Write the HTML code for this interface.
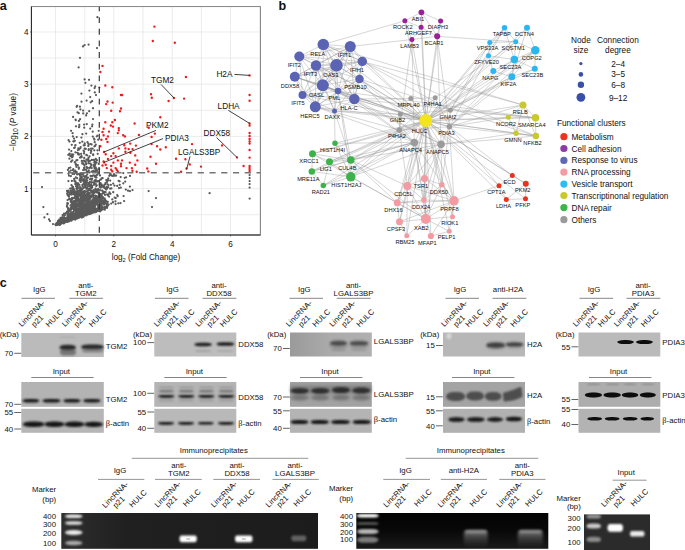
<!DOCTYPE html>
<html><head><meta charset="utf-8"><title>Figure</title>
<style>html,body{margin:0;padding:0;background:#fff}svg{display:block}text{font-family:"Liberation Sans",sans-serif;fill:#111}</style>
</head><body>
<svg width="685" height="550" viewBox="0 0 685 550">
<rect width="685" height="550" fill="#fff"/>
<g id="panel-a">
<path d="M55.5 6.6V235.0M84.7 6.6V235.0M113.8 6.6V235.0M143.0 6.6V235.0M172.2 6.6V235.0M201.4 6.6V235.0M230.5 6.6V235.0M259.7 6.6V235.0M31.4 214.7H260.4M31.4 188.6H260.4M31.4 162.5H260.4M31.4 136.4H260.4M31.4 110.3H260.4M31.4 84.2H260.4M31.4 58.1H260.4M31.4 32.0H260.4" stroke="#e4e4e4" stroke-width="0.7" fill="none"/>
<path d="M87.9 213.0h0M93.2 154.3h0M93.3 204.5h0M82.2 215.1h0M98.1 207.2h0M93.8 203.9h0M96.6 204.2h0M81.1 195.7h0M90.5 213.8h0M80.9 174.2h0M86.7 215.2h0M88.9 196.8h0M96.7 169.7h0M56.8 224.7h0M93.4 211.2h0M78.2 191.2h0M86.2 133.5h0M66.7 219.1h0M90.5 178.6h0M107.0 182.0h0M74.3 191.3h0M76.0 186.3h0M78.3 199.0h0M92.7 131.7h0M81.5 206.8h0M62.5 221.7h0M92.8 209.7h0M77.3 209.6h0M91.9 205.6h0M79.5 209.1h0M77.1 174.4h0M58.6 222.7h0M80.7 211.0h0M67.6 220.8h0M93.5 205.5h0M84.1 124.5h0M120.5 203.0h0M83.7 205.8h0M62.5 222.2h0M68.4 220.1h0M71.4 212.9h0M94.0 138.6h0M71.9 220.1h0M61.9 221.9h0M80.6 199.7h0M82.0 209.7h0M72.1 215.6h0M76.8 204.4h0M84.7 203.8h0M102.9 197.0h0M101.5 210.1h0M96.1 190.1h0M81.5 196.6h0M85.7 181.3h0M76.3 184.4h0M77.0 217.3h0M66.1 218.3h0M67.7 221.8h0M100.2 195.6h0M93.0 204.3h0M94.1 184.7h0M67.6 211.3h0M62.6 221.8h0M79.1 217.1h0M70.7 219.6h0M73.4 191.8h0M92.2 178.6h0M94.6 210.7h0M72.7 156.8h0M83.1 196.4h0M92.6 148.5h0M91.2 212.1h0M77.0 186.4h0M101.8 208.7h0M87.8 193.8h0M55.4 224.5h0M91.1 148.7h0M99.3 209.6h0M78.3 148.3h0M80.1 189.6h0M62.5 219.1h0M110.4 173.7h0M77.0 208.1h0M118.6 180.8h0M84.6 213.4h0M101.8 198.7h0M88.4 161.4h0M95.6 189.1h0M65.2 219.9h0M61.8 219.9h0M94.6 88.1h0M129.9 191.2h0M98.9 201.5h0M88.5 212.6h0M86.4 211.4h0M78.1 216.4h0M86.6 201.6h0M102.6 193.4h0M94.3 150.3h0M88.1 198.8h0M86.6 208.8h0M63.4 220.2h0M111.2 203.5h0M76.5 218.2h0M92.1 126.3h0M95.8 211.6h0M88.9 214.1h0M85.7 201.6h0M84.1 205.8h0M96.7 198.3h0M80.8 215.1h0M58.0 220.9h0M82.9 179.8h0M85.9 180.1h0M83.4 188.1h0M80.7 200.1h0M72.7 198.1h0M81.3 178.5h0M97.2 196.9h0M85.8 201.3h0M78.2 211.2h0M85.3 214.6h0M85.1 208.8h0M78.1 204.5h0M73.2 218.4h0M77.9 188.2h0M89.6 208.5h0M66.1 219.8h0M66.3 221.2h0M77.8 187.4h0M78.5 208.4h0M71.4 198.6h0M75.9 212.3h0M98.2 189.0h0M104.2 207.5h0M70.7 201.4h0M65.2 219.6h0M69.0 219.9h0M88.6 157.7h0M88.8 189.3h0M79.3 215.7h0M92.2 210.5h0M95.9 169.0h0M69.0 172.1h0M70.5 216.2h0M76.7 199.6h0M83.9 214.7h0M76.6 215.4h0M91.4 211.5h0M83.7 208.6h0M88.6 202.0h0M74.4 197.4h0M88.2 198.8h0M82.4 203.4h0M71.1 130.8h0M55.9 224.7h0M105.8 189.3h0M72.9 186.9h0M92.2 200.5h0M69.3 220.0h0M73.9 201.0h0M64.9 215.1h0M73.2 211.9h0M91.1 204.4h0M104.2 185.8h0M90.2 205.9h0M98.3 199.0h0M100.8 187.6h0M97.2 170.7h0M91.7 171.7h0M90.6 175.9h0M104.3 202.5h0M77.9 150.0h0M84.7 143.3h0M91.7 204.1h0M59.6 224.7h0M97.7 205.0h0M97.3 211.0h0M74.8 217.4h0M80.2 199.1h0M65.9 221.2h0M59.6 223.9h0M76.3 214.6h0M126.1 177.3h0M80.1 204.6h0M83.3 206.4h0M97.3 208.9h0M101.7 201.3h0M76.9 214.2h0M94.3 166.8h0M84.7 148.6h0M105.8 188.0h0M83.3 214.1h0M75.6 217.5h0M79.7 201.8h0M87.3 202.8h0M82.7 207.9h0M97.5 174.5h0M59.5 223.2h0M69.5 218.3h0M81.9 189.6h0M84.8 145.0h0M73.1 202.5h0M94.4 204.5h0M104.8 209.7h0M83.9 164.4h0M76.8 208.5h0M95.8 203.2h0M78.9 215.4h0M78.8 113.2h0M79.6 214.3h0M88.7 203.9h0M99.4 207.2h0M81.5 215.5h0M75.8 208.3h0M80.9 216.6h0M78.4 215.8h0M84.6 183.2h0M60.6 223.6h0M91.8 182.4h0M72.3 213.9h0M75.3 198.4h0M79.0 216.5h0M66.8 219.8h0M97.5 189.7h0M75.5 203.3h0M70.9 219.0h0M75.5 203.2h0M82.8 197.9h0M80.8 181.9h0M75.9 218.1h0M59.8 221.6h0M92.9 210.8h0M84.2 184.0h0M96.7 190.6h0M60.9 223.7h0M64.2 219.9h0M70.3 155.9h0M89.7 211.9h0M89.4 212.1h0M66.9 221.4h0M80.7 147.1h0M81.9 216.5h0M93.4 211.8h0M80.1 206.7h0M79.3 203.8h0M84.7 210.2h0M88.2 204.7h0M98.7 196.3h0M82.9 214.1h0M68.0 218.0h0M80.0 211.4h0M67.0 219.6h0M79.1 206.2h0M89.6 213.8h0M89.3 213.8h0M87.7 212.1h0M97.4 150.3h0M70.9 202.1h0M80.0 175.6h0M71.4 201.0h0M74.2 174.0h0M93.2 201.9h0M92.9 196.1h0M73.5 204.4h0M81.5 209.3h0M94.4 175.7h0M94.7 204.9h0M78.8 201.5h0M99.4 200.8h0M83.9 216.1h0M85.1 214.8h0M75.7 203.8h0M75.7 196.3h0M82.4 134.2h0M85.5 209.6h0M65.5 220.6h0M74.3 208.8h0M81.8 213.5h0M90.2 213.1h0M78.2 208.5h0M81.5 176.3h0M93.8 210.9h0M66.6 220.4h0M95.0 210.1h0M94.9 165.2h0M57.2 224.7h0M76.8 217.4h0M96.2 186.0h0M76.0 213.0h0M80.5 195.5h0M87.9 212.5h0M73.5 217.2h0M87.2 211.5h0M70.0 192.3h0M98.3 192.9h0M78.2 202.5h0M85.4 206.7h0M98.3 201.1h0M93.3 206.8h0M108.2 187.2h0M92.8 211.7h0M100.0 202.7h0M69.2 216.1h0M64.8 220.5h0M89.3 213.3h0M74.1 209.5h0M84.7 183.4h0M94.7 198.8h0M98.5 208.9h0M85.4 196.9h0M69.5 221.0h0M73.5 219.2h0M103.5 185.8h0M92.8 210.3h0M66.9 221.9h0M89.9 204.6h0M99.3 204.4h0M86.7 187.9h0M86.2 169.5h0M98.7 130.8h0M69.6 217.7h0M95.8 162.9h0M101.1 208.2h0M66.3 220.1h0M107.3 203.9h0M79.7 214.1h0M93.6 175.3h0M93.2 208.1h0M71.6 218.6h0M87.2 204.8h0M87.3 213.5h0M67.4 215.0h0M99.4 210.1h0M87.2 209.7h0M110.2 180.6h0M83.7 145.3h0M74.9 192.0h0M89.9 181.8h0M61.3 222.4h0M87.2 196.4h0M80.1 213.0h0M63.6 221.8h0M89.3 172.6h0M90.9 150.6h0M95.2 191.4h0M76.8 214.9h0M83.2 205.6h0M81.7 190.7h0M68.5 216.0h0M100.0 198.0h0M90.1 204.9h0M93.8 208.2h0M85.3 213.7h0M60.3 222.1h0M71.0 208.8h0M93.7 164.9h0M74.9 205.0h0M91.2 211.7h0M72.0 188.8h0M80.4 212.3h0M74.4 179.1h0M103.7 187.0h0M97.5 208.7h0M80.2 196.1h0M83.4 203.7h0M92.8 136.5h0M96.5 211.8h0M114.5 185.5h0M81.2 213.4h0M80.5 176.5h0M59.5 222.1h0M60.7 220.8h0M81.1 153.8h0M80.8 202.0h0M89.3 201.2h0M79.9 213.9h0M86.9 113.3h0M87.7 205.4h0M92.3 185.8h0M86.6 209.9h0M101.6 194.9h0M88.7 201.1h0M80.8 193.3h0M112.9 202.0h0M101.0 206.2h0M84.7 187.0h0M77.5 208.5h0M77.4 212.5h0M72.4 207.4h0M81.6 156.2h0M61.9 223.0h0M75.1 216.0h0M109.5 192.3h0M91.6 144.4h0M57.7 224.8h0M82.3 141.7h0M90.3 213.3h0M88.2 186.2h0M88.4 213.8h0M59.3 222.6h0M74.3 217.5h0M86.3 200.7h0M73.9 217.9h0M80.2 208.8h0M80.6 212.6h0M82.7 207.2h0M69.6 192.9h0M60.4 221.1h0M84.2 213.5h0M80.4 109.3h0M93.7 212.1h0M99.4 210.9h0M78.0 200.5h0M85.7 196.5h0M111.2 175.2h0M90.2 198.8h0M75.3 170.7h0M84.2 211.5h0M80.0 191.7h0M85.8 148.9h0M94.4 146.3h0M89.5 199.0h0M71.4 204.6h0M89.8 212.6h0M71.4 201.9h0M67.1 205.0h0M56.0 225.2h0M89.9 193.3h0M91.1 212.9h0M91.7 207.1h0M89.9 160.9h0M70.2 218.6h0M78.8 215.5h0M86.1 209.4h0M92.2 213.1h0M69.0 149.5h0M59.4 223.3h0M92.6 207.1h0M66.0 221.2h0M93.6 159.9h0M62.5 221.0h0M96.2 208.9h0M88.3 193.0h0M64.0 222.8h0M59.7 223.5h0M87.2 203.1h0M68.4 196.1h0M84.5 191.6h0M79.9 204.4h0M82.8 194.3h0M90.6 205.1h0M66.7 219.9h0M88.3 210.1h0M82.2 200.5h0M79.5 215.5h0M90.4 213.1h0M63.1 222.5h0M91.2 184.9h0M95.2 200.1h0M61.0 220.4h0M79.1 149.4h0M84.3 167.6h0M67.4 217.6h0M81.6 192.1h0M93.2 155.0h0M59.3 221.5h0M65.9 221.3h0M95.8 211.0h0M94.4 210.7h0M98.0 202.2h0M67.1 193.4h0M88.0 205.6h0M79.7 213.9h0M71.6 208.4h0M79.4 200.8h0M75.7 213.9h0M75.5 215.1h0M92.9 203.4h0M89.0 194.9h0M73.7 141.5h0M100.5 183.1h0M71.3 219.0h0M82.8 206.1h0M109.2 193.5h0M78.2 197.2h0M77.5 112.3h0M80.3 178.2h0M95.3 161.9h0M95.6 212.2h0M89.3 210.3h0M75.5 210.6h0M64.8 221.5h0M100.3 179.5h0M86.6 194.4h0M89.3 198.2h0M80.6 201.3h0M76.1 165.2h0M88.3 145.9h0M58.2 223.1h0M60.3 221.9h0M85.2 213.2h0M78.5 216.0h0M95.8 196.6h0M72.6 219.4h0M91.2 203.9h0M79.3 202.1h0M87.5 212.2h0M70.7 194.3h0M84.0 205.4h0M90.5 209.0h0M99.7 208.5h0M76.3 213.1h0M89.9 197.7h0M80.2 204.2h0M88.9 210.3h0M96.2 211.6h0M88.3 198.1h0M65.1 218.6h0M77.2 217.3h0M76.3 160.4h0M105.0 194.9h0M74.3 198.2h0M92.1 175.9h0M75.9 215.2h0M73.3 141.3h0M79.2 207.7h0M92.7 209.0h0M67.3 217.1h0M65.8 219.3h0M83.7 202.4h0M89.6 207.8h0M99.7 208.6h0M92.3 203.3h0M59.9 222.7h0M66.6 219.8h0M86.4 199.3h0M95.3 203.6h0M71.1 218.3h0M98.3 208.7h0M96.9 180.8h0M74.5 217.6h0M92.6 211.9h0M88.5 208.4h0M77.9 197.8h0M72.2 198.0h0M85.0 213.0h0M96.7 209.0h0M86.6 187.9h0M76.8 214.0h0M100.6 194.2h0M123.3 183.3h0M88.4 197.1h0M86.1 115.4h0M67.5 194.6h0M64.3 221.3h0M85.1 192.4h0M91.2 151.2h0M90.8 190.9h0M98.7 200.5h0M85.4 209.9h0M74.3 217.4h0M83.8 204.2h0M104.6 184.5h0M93.0 212.2h0M88.4 204.4h0M78.9 214.7h0M79.2 191.4h0M77.6 190.5h0M77.0 199.0h0M93.2 205.7h0M83.6 201.5h0M80.7 212.5h0M110.5 193.8h0M90.5 213.0h0M78.1 184.5h0M88.5 212.5h0M82.9 214.7h0M59.3 222.7h0M87.3 202.5h0M77.8 217.2h0M92.1 206.9h0M81.7 207.8h0M71.9 157.3h0M90.9 188.4h0M77.4 196.1h0M84.0 153.4h0M77.5 209.4h0M87.3 180.6h0M92.9 211.7h0M72.6 218.9h0M91.7 205.7h0M86.6 212.9h0M86.2 196.5h0M100.6 200.7h0M100.6 199.2h0M81.8 214.3h0M87.3 191.2h0M86.2 184.8h0M85.6 211.6h0M71.2 216.1h0M85.5 196.0h0M98.2 209.5h0M94.5 176.3h0M93.4 195.6h0M64.5 215.5h0M100.2 204.8h0M69.4 141.5h0M115.5 201.3h0M75.4 216.4h0M59.5 220.9h0M66.4 220.3h0M117.2 185.9h0M84.2 157.9h0M80.6 188.7h0M79.7 180.5h0M60.3 222.1h0M96.5 209.5h0M98.9 194.9h0M67.6 200.0h0M95.4 168.3h0M91.3 165.3h0M87.5 185.0h0M89.3 209.9h0M64.0 213.7h0M82.4 214.4h0M105.5 208.1h0M100.6 197.8h0M55.5 224.5h0M71.1 205.9h0M81.4 137.5h0M95.5 204.1h0M67.2 212.0h0M94.2 205.9h0M104.9 207.1h0M88.2 193.4h0M92.6 210.0h0M81.3 173.0h0M97.7 153.8h0M94.6 211.3h0M77.7 216.0h0M86.1 195.4h0M96.9 181.7h0M90.8 202.0h0M80.3 209.7h0M88.7 144.6h0M98.8 190.3h0M70.5 194.2h0M74.7 194.9h0M74.0 219.0h0M83.6 150.7h0M61.1 221.3h0M91.2 210.3h0M95.3 164.3h0M75.4 216.3h0M89.3 184.1h0M93.9 192.2h0M75.7 164.2h0M58.9 221.3h0M89.0 212.1h0M87.1 211.7h0M87.1 187.6h0M70.1 210.2h0M83.2 194.4h0M82.3 217.1h0M76.0 201.8h0M74.4 218.6h0M88.3 212.9h0M83.6 197.0h0M95.2 210.3h0M96.6 196.4h0M92.2 187.6h0M63.5 223.4h0M56.2 224.1h0M61.1 221.7h0M89.3 200.7h0M82.9 205.8h0M60.8 221.9h0M86.5 211.7h0M85.3 206.9h0M75.7 163.5h0M63.5 221.1h0M79.9 173.7h0M70.7 200.5h0M89.7 207.2h0M71.3 212.4h0M73.6 218.2h0M70.6 208.1h0M90.1 207.7h0M60.0 224.8h0M94.7 182.2h0M83.5 215.3h0M64.1 222.0h0M79.9 216.2h0M100.0 197.2h0M79.8 179.4h0M85.0 192.5h0M59.3 222.7h0M92.4 124.6h0M77.9 191.4h0M104.1 204.5h0M89.7 212.0h0M61.1 223.8h0M83.4 210.3h0M81.4 206.5h0M59.3 224.8h0M68.0 209.1h0M74.6 219.3h0M77.9 216.0h0M82.1 192.8h0M68.5 190.7h0M86.8 210.0h0M76.4 212.9h0M87.9 201.2h0M57.0 223.8h0M74.1 147.9h0M83.6 200.7h0M98.8 201.9h0M82.4 210.4h0M76.6 204.6h0M119.0 188.1h0M67.3 218.9h0M84.7 196.0h0M67.3 203.2h0M89.2 211.2h0M86.6 166.9h0M95.4 179.8h0M56.9 224.6h0M70.2 215.7h0M72.1 199.7h0M79.1 216.8h0M92.7 200.9h0M89.1 208.8h0M65.9 213.2h0M86.6 206.4h0M74.1 178.9h0M75.7 192.5h0M101.4 200.1h0M78.8 209.1h0M75.8 198.8h0M56.4 225.1h0M89.7 208.3h0M90.9 144.0h0M82.8 202.7h0M75.3 217.8h0M123.6 196.1h0M76.1 210.2h0M86.4 175.8h0M77.1 178.2h0M98.8 163.9h0M92.6 192.9h0M112.3 175.9h0M71.4 217.8h0M87.5 142.2h0M96.0 95.0h0M85.6 201.6h0M92.2 207.0h0M95.0 202.6h0M81.2 206.7h0M75.8 120.2h0M96.6 210.0h0M84.8 169.7h0M86.1 163.3h0M75.8 216.7h0M101.1 199.1h0M78.0 199.2h0M101.2 199.7h0M104.7 202.5h0M89.0 201.5h0M65.2 222.1h0M109.3 175.8h0M98.1 199.4h0M73.1 207.9h0M96.5 162.7h0M77.3 185.4h0M84.0 181.5h0M93.2 205.5h0M82.5 211.5h0M90.3 190.5h0M108.0 179.9h0M91.5 202.3h0M86.5 213.4h0M80.7 187.9h0M87.6 167.9h0M94.4 206.6h0M69.2 217.8h0M58.2 223.0h0M93.3 205.8h0M71.4 185.0h0M86.5 214.8h0M75.8 177.3h0M90.4 197.0h0M89.6 156.3h0M74.1 202.5h0M74.0 204.1h0M76.4 218.5h0M80.0 200.9h0M75.6 209.9h0M58.6 222.3h0M67.0 211.6h0M78.8 168.8h0M87.3 198.1h0M91.9 206.6h0M85.2 200.3h0M73.8 203.3h0M82.0 210.3h0M95.4 209.9h0M78.2 193.6h0M87.6 209.3h0M82.0 215.5h0M74.8 217.7h0M61.6 221.4h0M87.1 167.5h0M82.2 191.7h0M85.8 205.3h0M86.8 124.0h0M94.4 209.5h0M86.4 214.3h0M88.9 205.4h0M90.3 213.5h0M85.0 206.3h0M70.7 218.2h0M83.2 213.9h0M84.3 206.4h0M102.6 178.2h0M69.6 209.9h0M74.4 193.4h0M91.8 179.8h0M95.5 204.9h0M115.6 204.0h0M76.5 217.9h0M78.8 209.9h0M112.3 199.4h0M76.1 206.3h0M98.7 172.6h0M98.3 207.1h0M88.7 204.4h0M72.6 133.2h0M63.7 222.0h0M86.2 207.2h0M71.0 218.4h0M104.1 200.1h0M75.7 209.6h0M83.8 176.0h0M68.0 203.3h0M59.8 222.7h0M75.6 213.1h0M93.6 193.5h0M59.1 222.1h0M63.7 222.9h0M70.8 217.9h0M95.1 206.4h0M84.4 194.6h0M98.5 210.1h0M64.7 213.8h0M97.2 189.7h0M93.3 209.1h0M85.6 207.1h0M74.0 214.6h0M108.7 204.6h0M66.5 218.0h0M94.1 201.7h0M94.8 205.5h0M71.3 214.0h0M78.9 205.7h0M74.5 218.9h0M79.0 212.5h0M97.6 191.3h0M80.1 207.9h0M81.3 207.3h0M103.9 204.6h0M62.5 218.8h0M103.9 207.3h0M85.6 212.9h0M83.1 180.3h0M85.7 161.6h0M90.8 201.4h0M74.7 218.0h0M100.7 209.2h0M75.0 208.3h0M71.4 198.7h0M70.0 199.2h0M103.9 193.0h0M82.9 174.4h0M86.0 215.4h0M84.5 165.3h0M76.5 196.5h0M81.0 214.4h0M80.5 187.8h0M91.6 208.4h0M82.3 195.8h0M84.7 213.1h0M74.2 201.6h0M87.0 214.6h0M67.0 221.6h0M58.0 222.6h0M78.7 216.3h0M92.0 208.9h0M73.4 204.8h0M96.9 196.6h0M68.0 217.2h0M92.9 212.7h0M105.2 199.5h0M75.8 201.6h0M89.4 90.6h0M90.2 128.5h0M98.6 193.4h0M101.2 197.5h0M85.2 186.1h0M73.5 208.9h0M78.0 213.8h0M68.8 195.5h0M87.2 174.3h0M93.5 210.2h0M72.7 189.4h0M75.7 172.7h0M75.5 181.3h0M91.0 208.5h0M104.6 200.5h0M79.2 214.0h0M82.3 191.8h0M81.0 197.5h0M102.1 203.0h0M90.2 212.4h0M80.4 216.1h0M87.0 212.6h0M67.6 204.1h0M65.4 219.6h0M59.7 220.7h0M93.2 210.1h0M83.8 195.8h0M92.2 194.9h0M79.0 127.2h0M89.4 195.8h0M78.3 205.0h0M78.5 193.0h0M97.6 210.9h0M72.7 170.2h0M98.3 198.4h0M93.0 211.2h0M96.9 160.2h0M89.1 194.2h0M67.4 211.6h0M102.9 201.9h0M87.1 193.4h0M81.2 200.3h0M59.6 221.4h0M95.4 180.6h0M94.3 162.4h0M79.7 190.4h0M87.3 200.3h0M58.3 223.5h0M95.6 200.8h0M61.4 223.4h0M104.2 191.9h0M93.3 198.8h0M91.4 205.6h0M71.7 218.2h0M84.1 196.7h0M81.2 208.7h0M70.9 191.2h0M75.0 218.5h0M71.0 214.7h0M69.1 218.9h0M89.4 214.0h0M95.8 144.6h0M79.5 204.1h0M95.9 210.5h0M76.4 216.9h0M80.0 215.3h0M77.6 204.0h0M89.6 205.5h0M77.5 213.8h0M62.7 217.2h0M81.7 194.7h0M72.5 173.9h0M87.3 213.3h0M91.6 213.0h0M87.9 214.2h0M94.3 211.2h0M107.6 184.3h0M79.0 212.8h0M68.9 194.9h0M86.5 177.4h0M63.8 217.2h0M117.7 196.2h0M69.2 215.9h0M95.4 209.1h0M84.5 213.5h0M105.3 184.1h0M89.2 202.2h0M76.7 183.0h0M78.3 195.2h0M79.9 211.1h0M85.3 214.8h0M72.3 160.4h0M87.2 195.9h0M77.4 217.8h0M76.4 217.8h0M80.4 148.0h0M62.2 218.3h0M80.1 210.4h0M75.4 182.0h0M94.9 209.7h0M90.5 208.2h0M71.7 194.5h0M83.2 215.5h0M118.3 203.3h0M89.3 212.1h0M88.6 163.2h0M96.3 190.6h0M96.2 211.5h0M72.3 217.6h0M93.8 182.9h0M73.2 214.2h0M84.3 206.7h0M89.3 196.9h0M66.7 221.2h0M107.7 205.8h0M74.6 218.1h0M81.7 213.2h0M88.5 210.1h0M91.9 210.5h0M75.2 200.8h0M91.0 206.3h0M100.6 207.7h0M76.3 217.3h0M103.0 197.7h0M84.2 197.0h0M68.7 214.7h0M56.8 223.6h0M97.7 197.8h0M83.6 214.9h0M93.8 190.1h0M83.6 200.8h0M80.7 204.8h0M69.4 158.7h0M103.7 201.8h0M81.0 214.5h0M78.0 214.8h0M72.1 197.8h0M98.6 206.5h0M102.4 208.3h0M82.4 189.0h0M97.0 201.4h0M76.9 198.6h0M77.8 204.0h0M80.5 203.5h0M74.4 218.7h0M81.9 199.5h0M97.2 210.1h0M74.0 210.6h0M82.7 199.2h0M87.3 159.7h0M77.3 217.5h0M73.3 154.6h0M89.9 211.8h0M91.3 197.1h0M96.2 191.9h0M88.7 160.7h0M95.8 208.8h0M81.8 204.9h0M73.4 188.4h0M79.1 209.7h0M77.3 205.7h0M88.0 206.5h0M79.2 207.9h0M87.8 209.3h0M96.3 198.9h0M79.3 215.2h0M76.8 206.9h0M82.4 212.3h0M83.0 213.0h0M64.5 220.8h0M95.7 198.0h0M79.7 215.8h0M90.5 207.2h0M84.0 168.1h0M102.0 207.2h0M62.7 220.0h0M77.2 189.6h0M94.2 181.1h0M76.5 188.7h0M85.8 200.7h0M67.9 216.6h0M93.3 202.9h0M95.4 188.6h0M100.3 211.3h0M60.5 222.9h0M95.0 204.2h0M73.2 218.7h0M86.6 202.9h0M81.4 212.6h0M89.4 211.0h0M88.4 211.8h0M94.0 197.3h0M76.3 217.9h0M93.8 209.7h0M70.4 210.4h0M63.0 219.2h0M72.5 219.1h0M91.6 202.2h0M74.4 217.1h0M88.1 214.0h0M87.3 211.4h0M93.9 199.8h0M70.4 167.5h0M96.3 192.2h0M81.2 178.1h0M76.6 198.6h0M92.1 191.1h0M65.4 218.0h0M123.3 173.0h0M73.2 209.1h0M88.7 190.0h0M71.0 219.3h0M76.8 172.1h0M107.1 207.8h0M64.6 220.4h0M80.1 188.8h0M89.5 172.4h0M95.2 205.3h0M63.0 221.3h0M86.8 171.3h0M81.6 178.7h0M94.9 206.9h0M87.7 188.5h0M93.2 192.9h0M61.1 217.9h0M98.9 194.4h0M71.5 218.7h0M86.1 199.1h0M73.1 189.0h0M87.3 199.4h0M73.3 217.0h0M70.9 188.7h0M71.9 180.9h0M76.6 186.2h0M88.7 192.7h0M88.2 183.1h0M83.4 214.6h0M85.9 204.1h0M85.4 212.7h0M77.9 217.5h0M95.5 201.0h0M76.3 166.8h0M85.3 214.3h0M75.8 202.4h0M72.5 218.9h0M66.1 220.6h0M60.5 221.4h0M80.4 206.3h0M102.0 206.0h0M86.2 200.7h0M90.5 195.6h0M63.3 219.1h0M69.4 219.5h0M82.2 196.8h0M87.4 197.0h0M94.9 172.0h0M83.1 211.9h0M82.2 163.6h0M91.8 182.1h0M81.0 202.3h0M87.6 204.6h0M73.0 208.2h0M85.4 206.2h0M81.1 216.1h0M76.8 214.5h0M60.2 222.4h0M78.2 174.1h0M89.2 194.6h0M87.7 211.1h0M91.1 212.1h0M62.5 219.6h0M91.6 212.1h0M71.0 209.8h0M60.6 220.7h0M69.5 213.9h0M78.5 198.1h0M86.6 213.7h0M71.3 217.5h0M63.1 219.9h0M74.5 180.6h0M76.1 196.0h0M84.9 200.1h0M74.8 210.0h0M75.2 215.7h0M68.1 220.3h0M66.1 220.0h0M68.4 173.5h0M68.5 221.3h0M82.4 210.8h0M80.0 215.8h0M77.6 217.1h0M76.6 194.7h0M84.9 191.1h0M77.8 216.5h0M73.6 198.0h0M62.6 220.3h0M96.8 185.4h0M89.6 207.4h0M67.3 220.1h0M107.1 194.3h0M94.5 139.6h0M86.3 164.0h0M90.2 97.0h0M84.1 214.6h0M78.2 187.1h0M76.3 165.3h0M84.2 214.3h0M74.1 171.2h0M67.7 195.2h0M82.7 213.9h0M68.5 219.4h0M82.8 200.6h0M96.4 209.3h0M75.4 152.3h0M102.7 201.7h0M97.5 204.1h0M77.6 201.1h0M82.4 202.1h0M71.2 192.6h0M100.3 207.3h0M86.9 202.3h0M79.2 216.6h0M68.9 168.1h0M86.6 210.8h0M66.9 206.5h0M67.2 221.0h0M77.4 152.8h0M64.6 220.0h0M82.9 213.1h0M102.8 200.7h0M81.0 157.4h0M83.4 173.5h0M90.5 203.5h0M72.5 204.9h0M85.1 208.8h0M89.9 210.6h0M78.1 216.1h0M86.4 159.5h0M69.2 215.1h0M100.3 201.6h0M79.6 217.6h0M87.3 212.7h0M71.8 192.4h0M88.6 143.9h0M98.3 198.1h0M84.0 198.4h0M82.8 215.2h0M84.2 191.0h0M82.9 202.7h0M61.7 220.3h0M101.1 204.5h0M81.5 191.7h0M93.3 211.3h0M91.8 209.3h0M72.0 218.9h0M73.8 189.1h0M65.0 218.7h0M81.6 216.0h0M88.6 212.7h0M70.9 200.4h0M86.9 210.2h0M76.7 137.0h0M86.2 183.3h0M69.8 215.1h0M90.5 207.7h0M70.9 176.0h0M90.5 212.5h0M79.0 213.6h0M70.5 205.5h0M100.0 175.4h0M83.8 204.8h0M76.8 212.5h0M80.6 211.2h0M88.1 204.2h0M57.1 222.5h0M86.9 172.0h0M75.3 210.9h0M83.1 195.6h0M69.2 218.4h0M83.9 212.1h0M81.1 199.0h0M65.7 220.9h0M80.5 203.3h0M91.9 208.5h0M96.0 180.5h0M89.9 211.5h0M100.8 204.7h0M80.6 211.2h0M60.5 220.8h0M95.9 209.1h0M78.2 183.4h0M99.1 168.2h0M63.0 219.9h0M74.7 215.9h0M63.6 223.2h0M94.4 202.0h0M87.8 210.7h0M91.0 207.3h0M80.3 215.1h0M82.6 186.5h0M69.5 218.5h0M73.7 192.5h0M67.8 207.7h0M81.9 177.4h0M91.2 164.3h0M88.0 177.7h0M77.1 215.9h0M71.1 219.9h0M65.4 220.0h0M66.7 219.9h0M75.8 216.7h0M61.3 219.5h0M87.2 155.3h0M75.4 219.5h0M77.4 217.3h0M78.6 167.4h0M95.4 212.2h0M62.0 220.2h0M83.5 183.7h0M90.3 163.5h0M74.2 216.2h0M77.1 191.3h0M86.3 154.9h0M124.1 201.1h0M92.0 211.1h0M76.5 215.9h0M87.5 212.3h0M67.9 214.3h0M59.3 223.7h0M96.0 210.3h0M83.8 212.3h0M106.7 206.6h0M84.1 206.8h0M86.3 214.4h0M65.1 221.0h0M97.0 202.0h0M76.1 217.7h0M95.6 202.5h0M75.3 217.0h0M98.9 181.1h0M83.0 163.5h0M88.4 213.7h0M60.4 221.9h0M83.7 195.9h0M94.7 199.8h0M68.2 212.9h0M97.3 200.4h0M96.4 175.3h0M92.9 194.4h0M57.6 222.9h0M95.2 171.0h0M100.0 190.0h0M71.8 192.8h0M60.2 222.6h0M103.2 192.7h0M84.3 193.5h0M72.3 217.3h0M76.5 215.9h0M81.7 215.0h0M96.0 168.2h0M61.1 221.5h0M93.8 166.6h0M68.2 220.5h0M72.9 136.4h0M75.9 215.6h0M94.8 161.3h0M77.8 165.1h0M75.5 206.8h0M69.0 175.7h0M88.5 207.5h0M70.6 217.2h0M76.2 198.5h0M92.3 210.8h0M56.9 223.7h0M92.9 194.5h0M71.9 201.9h0M61.4 221.7h0M73.6 217.7h0M89.9 211.5h0M91.0 212.3h0M76.1 218.2h0M69.8 216.9h0M56.9 224.0h0M74.3 210.6h0M68.6 210.8h0M76.2 203.5h0M68.8 195.4h0M86.2 203.0h0M84.3 198.7h0M96.2 195.9h0M96.9 199.3h0M102.6 203.7h0M70.8 191.1h0M85.3 176.4h0M92.0 196.8h0M66.3 218.7h0M96.0 210.2h0M85.1 161.6h0M81.2 203.1h0M77.3 205.5h0M92.1 212.6h0M99.3 87.5h0M76.9 192.9h0M85.7 213.0h0M73.3 169.2h0M57.8 224.7h0M106.3 201.2h0M81.7 215.3h0M81.2 214.8h0M68.6 219.2h0M113.9 175.8h0M84.6 184.6h0M60.8 222.2h0M79.4 208.7h0M86.7 179.1h0M102.2 190.5h0M80.4 214.0h0M89.2 208.2h0M86.3 199.0h0M84.6 209.8h0M88.3 201.8h0M89.7 204.7h0M96.6 201.9h0M80.0 210.3h0M71.4 220.7h0M67.0 190.9h0M74.9 204.7h0M73.4 218.1h0M72.0 203.4h0M82.1 207.6h0M67.0 220.1h0M80.6 208.3h0M87.3 214.1h0M86.4 204.6h0M87.1 214.3h0M81.8 198.4h0M79.3 215.8h0M73.1 214.0h0M67.8 219.8h0M66.5 219.8h0M65.9 220.6h0M56.4 223.4h0M86.6 203.9h0M76.4 215.3h0M84.6 205.9h0M84.2 212.8h0M102.1 186.1h0M99.2 205.1h0M75.0 215.1h0M90.7 203.0h0M77.2 209.5h0M73.9 202.6h0M75.2 184.0h0M81.5 180.1h0M95.4 195.5h0M83.0 192.8h0M86.4 206.3h0M75.7 194.1h0M78.5 194.8h0M88.8 211.8h0M96.6 192.4h0M58.9 221.3h0M82.6 214.5h0M74.5 206.8h0M80.4 204.1h0M107.8 195.3h0M69.1 154.2h0M81.5 208.0h0M98.9 195.4h0M75.5 191.4h0M88.6 150.1h0M67.3 217.2h0M88.5 200.9h0M71.2 155.4h0M84.1 151.5h0M82.4 192.7h0M90.9 204.2h0M69.0 218.4h0M79.2 216.3h0M83.6 211.9h0M103.3 186.7h0M59.1 221.7h0M81.4 201.0h0M89.1 188.9h0M83.2 180.9h0M94.7 210.6h0M84.7 180.1h0M72.5 214.4h0M72.6 217.6h0M74.1 213.3h0M95.5 199.5h0M91.3 182.7h0M60.8 220.3h0M74.8 191.6h0M90.6 166.6h0M66.9 220.4h0M83.2 216.9h0M89.8 188.3h0M87.8 208.0h0M91.7 210.9h0M86.8 182.5h0M79.4 205.3h0M86.6 201.3h0M85.7 208.1h0M83.5 206.9h0M84.6 209.4h0M69.6 214.5h0M80.0 187.0h0M73.6 206.7h0M104.6 203.9h0M105.8 189.2h0M63.4 223.0h0M76.4 217.0h0M68.4 181.0h0M78.7 209.9h0M77.4 188.8h0M89.3 207.3h0M81.8 160.9h0M86.5 199.5h0M56.6 224.2h0M59.2 222.6h0M69.2 221.0h0M81.9 217.5h0M102.7 209.4h0M84.0 210.3h0M79.6 206.0h0M100.7 203.0h0M63.3 218.6h0M69.0 209.4h0M71.1 212.3h0M94.7 210.7h0M88.0 208.9h0M81.2 156.3h0M101.7 184.7h0M81.2 173.8h0M104.2 187.8h0M88.8 170.4h0M101.9 201.2h0M86.4 202.7h0M82.5 210.7h0M101.1 203.3h0M107.1 188.5h0M83.0 179.6h0M97.2 199.2h0M62.5 221.6h0M89.3 203.7h0M83.3 193.9h0M71.3 217.3h0M60.6 217.9h0M86.6 202.2h0M90.0 179.3h0M88.5 211.1h0M99.9 209.7h0M94.3 139.6h0M79.4 184.9h0M129.9 186.6h0M85.9 183.9h0M74.4 181.0h0M65.1 219.6h0M85.5 198.7h0M83.0 212.5h0M88.8 199.1h0M55.8 225.0h0M89.2 111.2h0M83.8 213.2h0M68.5 219.9h0M64.4 223.0h0M59.8 221.3h0M76.3 218.2h0M76.5 197.6h0M71.3 204.7h0M77.8 187.9h0M87.1 197.0h0M83.0 210.7h0M76.6 217.2h0M75.2 145.4h0M93.0 191.2h0M62.4 222.0h0M82.8 207.9h0M98.2 210.8h0M75.3 217.5h0M78.6 193.7h0M120.8 187.5h0M94.1 202.0h0M72.7 217.4h0M92.5 210.0h0M100.1 209.9h0M69.9 220.1h0M75.5 145.0h0M95.2 145.9h0M84.4 178.3h0M89.3 182.8h0M75.2 217.7h0M86.3 187.0h0M95.9 211.9h0M85.7 198.5h0M78.5 215.4h0M93.6 210.0h0M85.4 214.3h0M101.8 207.3h0M98.1 172.7h0M81.5 202.0h0M89.8 185.9h0M70.1 188.5h0M89.5 172.4h0M73.4 217.1h0M97.6 197.4h0M94.4 192.7h0M90.8 208.9h0M87.7 208.2h0M76.1 200.6h0M75.0 181.4h0M97.8 200.1h0M73.7 215.7h0M90.1 208.1h0M74.8 202.5h0M79.0 216.3h0M77.9 190.9h0M78.2 193.7h0M59.3 219.6h0M87.2 207.0h0M91.8 159.9h0M103.1 198.0h0M68.6 217.7h0M83.2 202.2h0M100.7 179.3h0M74.6 191.8h0M92.1 201.1h0M72.7 214.7h0M97.2 203.8h0M86.8 206.9h0M76.8 213.0h0M95.5 204.2h0M89.0 213.2h0M90.7 212.5h0M74.0 208.2h0M80.5 191.2h0M55.8 224.2h0M92.2 212.2h0M61.4 217.6h0M85.7 195.2h0M74.5 208.0h0M81.4 216.3h0M75.1 217.5h0M75.7 172.6h0M66.7 219.5h0M84.0 206.1h0M78.7 199.6h0M68.4 192.3h0M96.1 203.8h0M94.6 168.5h0M90.1 213.9h0M63.0 220.6h0M94.2 212.0h0M69.0 211.4h0M77.5 206.1h0M87.2 188.2h0M96.5 177.6h0M80.2 214.5h0M59.1 223.0h0M94.2 193.2h0M81.5 212.2h0M62.5 221.4h0M88.5 210.6h0M78.0 216.3h0M82.9 214.7h0M58.8 221.4h0M81.5 195.2h0M95.2 177.1h0M90.7 186.7h0M77.5 218.3h0M93.5 205.0h0M79.3 126.6h0M92.6 211.1h0M78.7 215.5h0M72.0 218.4h0M84.2 160.9h0M78.3 216.0h0M83.9 184.6h0M77.6 197.1h0M67.3 220.2h0M72.5 218.2h0M90.9 212.0h0M80.4 194.1h0M87.9 211.6h0M75.7 183.4h0M89.4 198.9h0M91.7 205.3h0M71.3 188.3h0M67.8 221.0h0M84.3 215.1h0M91.9 190.6h0M74.5 215.1h0M85.3 206.6h0M83.4 194.2h0M92.1 208.5h0M69.0 196.8h0M83.6 181.6h0M86.0 212.2h0M74.2 218.5h0M66.9 220.3h0M95.2 203.6h0M85.6 191.3h0M79.7 194.0h0M101.5 197.7h0M89.9 203.7h0M66.4 220.2h0M74.8 140.8h0M78.1 154.3h0M78.4 208.2h0M95.5 171.6h0M79.4 195.4h0M85.8 194.8h0M79.1 154.6h0M91.8 205.9h0M132.5 190.1h0M79.3 124.9h0M83.6 202.0h0M62.9 218.6h0M83.1 198.1h0M84.2 215.5h0M81.2 215.5h0M74.1 205.1h0M78.0 215.1h0M72.2 191.2h0M82.3 201.1h0M97.5 135.7h0M88.7 195.3h0M86.9 212.4h0M67.0 218.0h0M76.8 212.0h0M73.6 194.2h0M95.8 184.0h0M72.7 156.7h0M115.8 198.1h0M80.0 157.5h0M72.2 186.0h0M65.0 221.6h0M75.1 216.3h0M83.1 170.0h0M96.6 211.4h0M92.5 199.9h0M69.6 214.3h0M82.4 204.9h0M91.5 192.5h0M78.1 218.1h0M82.5 204.5h0M71.6 213.3h0M71.8 206.8h0M62.6 215.1h0M87.8 171.8h0M81.1 205.1h0M91.7 168.0h0M99.0 208.7h0M76.0 215.7h0M82.3 185.1h0M74.0 214.1h0M89.6 167.9h0M102.1 190.7h0M76.1 210.8h0M57.1 223.6h0M93.2 170.8h0M91.2 205.6h0M62.7 220.0h0M82.5 213.4h0M86.3 188.7h0M91.7 171.5h0M90.4 211.4h0M100.9 179.6h0M102.2 196.5h0M79.8 216.2h0M81.5 179.4h0M98.0 209.2h0M83.9 201.2h0M77.7 217.8h0M77.4 205.2h0M85.5 208.5h0M71.3 216.9h0M101.0 203.3h0M99.8 190.6h0M82.1 193.2h0M99.1 169.2h0M69.9 209.5h0M73.8 215.4h0M78.9 167.9h0M79.5 216.6h0M84.1 207.3h0M85.5 212.3h0M80.3 204.1h0M81.6 209.3h0M86.8 188.8h0M74.1 189.6h0M86.6 211.8h0M94.5 203.1h0M69.2 198.9h0M80.1 210.4h0M97.4 17.2h0M83.0 46.4h0M84.6 45.0h0M88.6 44.6h0M97.0 48.0h0M80.0 57.8h0M78.6 67.4h0M84.6 79.4h0M89.0 79.8h0M85.4 82.8h0M91.4 85.6h0M95.2 86.4h0M94.8 92.4h0M81.4 93.6h0M86.6 100.6h0M76.6 106.8h0M93.0 108.2h0M77.4 160.0h0M71.8 144.8h0M96.6 169.2h0M71.3 151.0h0M90.7 102.3h0M74.0 138.5h0M83.1 110.5h0M76.0 126.3h0M70.6 170.6h0M81.6 157.2h0M98.2 139.7h0M92.9 154.6h0M67.9 169.9h0M69.7 153.7h0M88.2 158.9h0M95.8 158.9h0M79.8 142.8h0M78.6 153.7h0M95.4 167.1h0M88.8 149.2h0M68.6 140.2h0M83.2 113.4h0M90.8 152.9h0M94.5 167.1h0M81.5 101.7h0M71.1 161.7h0M79.9 106.7h0M96.8 136.3h0M73.1 116.9h0M84.2 127.7h0M88.3 143.6h0M77.1 105.9h0M77.9 112.6h0M94.7 142.2h0M94.3 160.1h0M74.8 162.2h0M82.4 162.6h0M72.0 154.4h0M83.8 160.7h0M74.8 147.5h0M75.6 119.6h0M68.3 154.8h0M80.1 119.2h0M93.0 119.1h0M92.1 101.2h0M93.3 171.4h0M85.3 169.6h0M78.9 120.9h0M42.0 187.0h0M43.4 207.0h0M47.4 214.0h0M44.4 217.4h0M49.0 219.4h0M50.0 221.0h0M53.0 224.0h0M249.6 175.0h0M249.6 178.0h0M249.6 181.0h0M249.6 184.0h0M249.6 187.6h0M249.6 198.6h0M209.6 193.2h0M148.6 191.0h0M156.0 198.0h0M152.0 207.0h0M113.1 202.3h0M100.2 196.9h0M120.7 177.1h0M99.5 211.0h0M106.7 205.4h0M103.8 192.7h0M104.3 201.0h0M105.6 192.2h0M106.7 203.6h0M110.2 188.7h0M128.0 190.7h0M100.7 200.5h0M130.0 175.9h0M105.2 201.7h0M117.2 195.1h0M111.4 188.4h0M102.5 186.7h0M105.6 182.9h0M106.2 189.5h0M116.1 175.5h0M115.3 175.5h0M102.5 190.8h0M119.6 181.3h0M114.2 174.9h0M101.7 185.7h0M100.4 204.7h0M108.1 195.2h0M99.7 209.5h0M104.6 198.4h0M125.8 189.5h0M105.2 203.0h0M106.6 186.9h0M109.1 196.6h0M113.2 183.6h0M124.7 177.8h0M106.5 206.4h0M106.2 180.1h0M99.8 200.8h0M99.7 187.1h0M107.9 180.5h0M107.8 201.9h0M100.3 186.3h0M114.7 197.6h0M110.9 184.8h0M108.5 185.0h0M108.2 178.4h0M114.0 174.2h0M125.2 181.5h0M99.8 184.6h0M109.9 174.1h0M99.4 199.9h0M101.7 178.4h0M105.6 188.5h0M99.7 210.6h0M119.7 184.8h0M113.2 192.2h0" stroke="#5a5a5a" stroke-width="2.25" stroke-linecap="round" fill="none"/>
<path d="M102.5 65.9h0M100.3 72.0h0M105.3 85.5h0M112.3 87.3h0M121.0 95.0h0M122.1 95.0h0M107.5 101.5h0M106.2 104.1h0M112.7 102.6h0M121.0 108.5h0M120.0 111.3h0M111.2 110.7h0M151.0 94.3h0M151.8 97.8h0M168.6 101.0h0M173.9 98.0h0M184.1 98.6h0M185.9 77.0h0M160.3 117.2h0M114.9 120.0h0M112.3 122.2h0M105.3 122.2h0M134.6 123.5h0M110.8 125.5h0M113.0 126.6h0M118.8 128.1h0M103.6 128.8h0M148.8 127.7h0M118.8 130.3h0M109.0 131.6h0M102.5 132.0h0M117.8 133.1h0M103.6 135.3h0M107.9 136.4h0M123.2 135.3h0M125.0 136.4h0M138.9 134.9h0M154.9 133.6h0M151.6 136.9h0M106.2 139.0h0M101.4 139.7h0M107.5 141.9h0M130.2 143.6h0M124.3 145.2h0M135.9 145.6h0M151.6 144.1h0M157.1 146.2h0M100.3 146.2h0M118.8 148.4h0M125.4 148.4h0M128.7 149.1h0M132.6 149.1h0M160.3 149.5h0M165.8 147.3h0M125.4 151.7h0M130.4 152.8h0M113.4 153.2h0M105.7 154.3h0M111.2 156.1h0M115.6 156.1h0M135.2 155.4h0M150.5 156.7h0M107.9 158.9h0M117.8 160.4h0M122.1 160.4h0M137.4 160.4h0M103.6 161.5h0M113.4 162.6h0M129.8 162.6h0M121.0 163.7h0M156.0 163.7h0M105.7 164.8h0M102.5 165.5h0M111.2 165.9h0M121.0 166.3h0M135.2 164.8h0M106.8 168.1h0M115.6 168.1h0M126.5 168.1h0M131.9 168.1h0M147.2 168.5h0M111.2 169.8h0M116.7 169.8h0M112.3 171.4h0M117.8 171.4h0M132.4 170.7h0M136.7 171.8h0M148.3 171.4h0M176.0 158.7h0M185.4 159.3h0M192.0 144.1h0M189.8 164.4h0M186.5 168.5h0M181.1 171.8h0M201.0 166.6h0M222.0 145.4h0M237.0 157.4h0M243.6 166.0h0M154.4 26.6h0M152.8 41.0h0M174.8 42.8h0M104.0 152.0h0M104.0 162.4h0M249.6 75.4h0M249.6 95.0h0M249.6 100.8h0M249.6 123.4h0M249.6 125.6h0M249.6 133.0h0M249.6 136.0h0M249.6 139.0h0M249.6 141.4h0M249.6 143.6h0M249.6 150.0h0M249.6 157.6h0M249.6 166.0h0M249.6 168.0h0M249.6 170.0h0M249.6 172.0h0" stroke="#ee1c1c" stroke-width="2.4" stroke-linecap="round" fill="none"/>
<path d="M99.3 6.6V235.0" stroke="#3a3a3a" stroke-width="1.2" stroke-dasharray="5.85 5.8" stroke-dashoffset="1.1" fill="none"/>
<path d="M31.4 172.8H260.4" stroke="#767676" stroke-width="1.4" stroke-dasharray="6.2 5.55" stroke-dashoffset="-1.8" fill="none"/>
<rect x="31.4" y="6.6" width="228.99999999999997" height="228.4" fill="none" stroke="#777" stroke-width="0.9"/>
<path d="M31.4 6.6V235.0H260.4" stroke="#222" stroke-width="1" fill="none"/>
<path d="M30.0 188.6h1.4M30.0 136.4h1.4M30.0 84.2h1.4M30.0 32.0h1.4M55.5 235.0v1.4M113.8 235.0v1.4M172.2 235.0v1.4M230.5 235.0v1.4" stroke="#333" stroke-width="0.7" fill="none"/>
<text x="28.6" y="191.5" font-size="8.2" text-anchor="end">1</text>
<text x="28.6" y="139.3" font-size="8.2" text-anchor="end">2</text>
<text x="28.6" y="87.1" font-size="8.2" text-anchor="end">3</text>
<text x="28.6" y="34.9" font-size="8.2" text-anchor="end">4</text>
<text x="55.5" y="247.4" font-size="8.2" text-anchor="middle">0</text>
<text x="113.8" y="247.4" font-size="8.2" text-anchor="middle">2</text>
<text x="172.2" y="247.4" font-size="8.2" text-anchor="middle">4</text>
<text x="230.5" y="247.4" font-size="8.2" text-anchor="middle">6</text>
<text x="146" y="259.6" font-size="8.2" text-anchor="middle">log<tspan font-size="5.6" dy="2">2</tspan><tspan dy="-2"> (Fold Change)</tspan></text>
<text transform="translate(16.4,122) rotate(-90)" font-size="8.2" text-anchor="middle">−log<tspan font-size="6.3" dy="2">10</tspan><tspan dy="-2"> (</tspan><tspan font-style="italic">P</tspan> value)</text>
<path d="M161 84.4L174 98" stroke="#111" stroke-width="0.8" fill="none"/>
<path d="M234.4 74.4L249.6 75.4" stroke="#111" stroke-width="0.8" fill="none"/>
<path d="M228.4 110.4L249.6 123.4" stroke="#111" stroke-width="0.8" fill="none"/>
<path d="M156 130.4L104 152" stroke="#111" stroke-width="0.8" fill="none"/>
<path d="M163 138.6L104 162.4" stroke="#111" stroke-width="0.8" fill="none"/>
<path d="M216.6 137.6L237 157.4" stroke="#111" stroke-width="0.8" fill="none"/>
<path d="M190 156.4L186.6 169.4" stroke="#111" stroke-width="0.8" fill="none"/>
<text x="151" y="82.6" font-size="8.25">TGM2</text>
<text x="216.4" y="76.6" font-size="8.25">H2A</text>
<text x="217.6" y="108.6" font-size="8.25">LDHA</text>
<text x="146" y="128.2" font-size="8.25">PKM2</text>
<text x="165" y="141" font-size="8.25">PDIA3</text>
<text x="203.6" y="136.2" font-size="8.25">DDX58</text>
<text x="178" y="155" font-size="8.25">LGALS3BP</text>
<text x="-0.3" y="10" font-size="12.6" font-weight="bold">a</text>
</g>
<g id="panel-b">
<path d="M421.4 12.3L421.1 27.3M421.4 12.3L437.2 36.3M421.4 12.3L440.6 21.1M421.4 12.3L425.8 120.6M421.4 12.3L404.9 20.8M414.3 142.4L441.1 144.3M414.3 142.4L407.3 186M414.3 142.4L350.8 160M414.3 142.4L423.9 200M414.3 142.4L397.3 202.8M414.3 142.4L315.3 106.8M414.3 142.4L350.8 176.8M414.3 142.4L335 143.3M414.3 142.4L354.3 99M414.3 142.4L425.8 120.6M414.3 142.4L411.9 39.5M414.3 142.4L329.5 161.8M414.3 142.4L311.8 171.5M414.3 142.4L399.4 130M414.3 142.4L338 91M414.3 142.4L454 200.8M414.3 142.4L359.5 79M414.3 142.4L323.3 185.5M414.3 142.4L424.5 178.5M414.3 142.4L425.8 219M441.1 144.3L437.2 36.3M441.1 144.3L407.3 186M441.1 144.3L350.8 160M441.1 144.3L423.9 200M441.1 144.3L441.8 184.8M441.1 144.3L516 133.2M441.1 144.3L350.8 176.8M441.1 144.3L354.3 99M441.1 144.3L425.8 120.6M441.1 144.3L535.8 136M441.1 144.3L322.8 85.3M441.1 144.3L449.3 126.7M441.1 144.3L454 200.8M441.1 144.3L359.5 79M441.1 144.3L424.5 178.5M441.1 144.3L425.8 219M421.1 27.3L437.2 36.3M421.1 27.3L425.8 120.6M421.1 27.3L411.9 39.5M421.1 27.3L404.9 20.8M437.2 36.3L440.6 21.1M437.2 36.3L425.8 120.6M437.2 36.3L411.9 39.5M437.2 36.3L449.3 126.7M437.2 36.3L515.8 41.8M407.3 186L399.5 221.8M407.3 186L350.8 160M407.3 186L423.9 200M407.3 186L397.3 202.8M407.3 186L425.8 120.6M407.3 186L399.4 130M407.3 186L454 200.8M407.3 186L406.8 235.8M407.3 186L424.5 178.5M407.3 186L425.8 219M535.3 50.3L527 27.8M535.3 50.3L450.3 110.3M535.3 50.3L425.8 120.6M535.3 50.3L511.8 76.8M535.3 50.3L449.3 126.7M535.3 50.3L514.3 59.5M535.3 50.3L534.8 68.8M535.3 50.3L515.8 41.8M399.5 221.8L397.3 202.8M399.5 221.8L425.8 120.6M399.5 221.8L454 200.8M399.5 221.8L406.8 235.8M399.5 221.8L425.8 219M499 185.8L512.3 175.5M499 185.8L425.8 120.6M499 185.8L506.3 199.5M499 185.8L449.3 126.7M499 185.8L454 200.8M350.8 160L334.5 111M350.8 160L397.3 202.8M350.8 160L350.8 176.8M350.8 160L335 143.3M350.8 160L425.8 120.6M350.8 160L329.5 161.8M350.8 160L311.8 171.5M350.8 160L399.4 130M350.8 160L338 91M350.8 160L425.8 219M350.8 160L312.5 153.8M334.5 111L400.3 114.3M334.5 111L315.3 106.8M334.5 111L335 143.3M334.5 111L354.3 99M334.5 111L425.8 120.6M334.5 111L316 65.5M334.5 111L302.5 95M334.5 111L336.5 65.3M334.5 111L322.8 85.3M334.5 111L338 91M334.5 111L359.5 79M527 27.8L425.8 120.6M527 27.8L511.8 76.8M527 27.8L515.8 41.8M423.9 200L441.8 184.8M423.9 200L397.3 202.8M423.9 200L425.8 120.6M423.9 200L454 200.8M423.9 200L424.5 178.5M423.9 200L425.8 219M441.8 184.8L425.8 120.6M441.8 184.8L449.3 126.7M441.8 184.8L454 200.8M441.8 184.8L424.5 178.5M441.8 184.8L425.8 219M294.8 76.8L315.3 106.8M294.8 76.8L354.3 99M294.8 76.8L425.8 120.6M294.8 76.8L362.3 61.5M294.8 76.8L350.3 46.5M294.8 76.8L299.3 56.5M294.8 76.8L316 65.5M294.8 76.8L302.5 95M294.8 76.8L336.5 65.3M294.8 76.8L322.8 85.3M294.8 76.8L338 91M397.3 202.8L350.8 176.8M397.3 202.8L425.8 120.6M397.3 202.8L454 200.8M397.3 202.8L425.8 219M440.6 21.1L425.8 120.6M512.3 175.5L425.8 120.6M512.3 175.5L449.3 126.7M512.3 175.5L525.8 183.8M516 133.2L425.8 120.6M516 133.2L508.3 117.3M516 133.2L535.8 136M516 133.2L523 105M450.3 110.3L400.3 114.3M450.3 110.3L425.8 120.6M450.3 110.3L362.3 61.5M450.3 110.3L511.8 76.8M450.3 110.3L449.3 126.7M450.3 110.3L535.5 117.8M450.3 110.3L504.5 27.8M450.3 110.3L489.8 42.5M400.3 114.3L425.8 120.6M400.3 114.3L399.4 130M315.3 106.8L354.3 99M315.3 106.8L425.8 120.6M315.3 106.8L350.3 46.5M315.3 106.8L299.3 56.5M315.3 106.8L316 65.5M315.3 106.8L302.5 95M315.3 106.8L336.5 65.3M315.3 106.8L322.8 85.3M315.3 106.8L399.4 130M315.3 106.8L338 91M315.3 106.8L359.5 79M350.8 176.8L335 143.3M350.8 176.8L425.8 120.6M350.8 176.8L329.5 161.8M350.8 176.8L311.8 171.5M350.8 176.8L399.4 130M350.8 176.8L338 91M350.8 176.8L323.3 185.5M350.8 176.8L425.8 219M350.8 176.8L312.5 153.8M335 143.3L425.8 120.6M354.3 99L425.8 120.6M354.3 99L362.3 61.5M354.3 99L350.3 46.5M354.3 99L316 65.5M354.3 99L302.5 95M354.3 99L410.8 98.5M354.3 99L336.5 65.3M354.3 99L322.8 85.3M354.3 99L449.3 126.7M354.3 99L338 91M354.3 99L359.5 79M354.3 99L323.3 44.5M354.3 99L535.5 117.8M425.8 120.6L362.3 61.5M425.8 120.6L350.3 46.5M425.8 120.6L299.3 56.5M425.8 120.6L316 65.5M425.8 120.6L302.5 95M425.8 120.6L511.8 76.8M425.8 120.6L411.9 39.5M425.8 120.6L506.3 199.5M425.8 120.6L329.5 161.8M425.8 120.6L430.9 236M425.8 120.6L311.8 171.5M425.8 120.6L410.8 98.5M425.8 120.6L493.3 71M425.8 120.6L508.3 117.3M425.8 120.6L535.8 136M425.8 120.6L336.5 65.3M425.8 120.6L322.8 85.3M425.8 120.6L435.2 97.8M425.8 120.6L399.4 130M425.8 120.6L449.3 126.7M425.8 120.6L449.3 231.3M425.8 120.6L525.5 198.8M425.8 120.6L525.8 183.8M425.8 120.6L338 91M425.8 120.6L454 200.8M425.8 120.6L359.5 79M425.8 120.6L323.3 185.5M425.8 120.6L406.8 235.8M425.8 120.6L323.3 44.5M425.8 120.6L523 105M425.8 120.6L452.5 216.8M425.8 120.6L404.9 20.8M425.8 120.6L514.3 59.5M425.8 120.6L534.8 68.8M425.8 120.6L535.5 117.8M425.8 120.6L515.8 41.8M425.8 120.6L504.5 27.8M425.8 120.6L424.5 178.5M425.8 120.6L489.8 42.5M425.8 120.6L425.8 219M425.8 120.6L312.5 153.8M425.8 120.6L488.5 55.8M362.3 61.5L350.3 46.5M362.3 61.5L299.3 56.5M362.3 61.5L316 65.5M362.3 61.5L336.5 65.3M362.3 61.5L322.8 85.3M362.3 61.5L338 91M362.3 61.5L359.5 79M362.3 61.5L323.3 44.5M362.3 61.5L523 105M350.3 46.5L299.3 56.5M350.3 46.5L316 65.5M350.3 46.5L302.5 95M350.3 46.5L411.9 39.5M350.3 46.5L336.5 65.3M350.3 46.5L322.8 85.3M350.3 46.5L338 91M350.3 46.5L359.5 79M350.3 46.5L323.3 44.5M299.3 56.5L316 65.5M299.3 56.5L302.5 95M299.3 56.5L336.5 65.3M299.3 56.5L322.8 85.3M299.3 56.5L323.3 44.5M316 65.5L302.5 95M316 65.5L336.5 65.3M316 65.5L322.8 85.3M316 65.5L338 91M316 65.5L359.5 79M316 65.5L323.3 44.5M302.5 95L336.5 65.3M302.5 95L322.8 85.3M302.5 95L338 91M511.8 76.8L493.3 71M511.8 76.8L449.3 126.7M511.8 76.8L514.3 59.5M511.8 76.8L534.8 68.8M411.9 39.5L399.4 130M411.9 39.5L404.9 20.8M506.3 199.5L525.5 198.8M506.3 199.5L525.8 183.8M329.5 161.8L311.8 171.5M329.5 161.8L399.4 130M329.5 161.8L323.3 185.5M329.5 161.8L312.5 153.8M430.9 236L449.3 231.3M430.9 236L454 200.8M430.9 236L425.8 219M311.8 171.5L323.3 185.5M311.8 171.5L312.5 153.8M410.8 98.5L435.2 97.8M493.3 71L514.3 59.5M493.3 71L488.5 55.8M508.3 117.3L449.3 126.7M508.3 117.3L523 105M508.3 117.3L535.5 117.8M535.8 136L449.3 126.7M535.8 136L359.5 79M535.8 136L323.3 44.5M535.8 136L523 105M535.8 136L535.5 117.8M336.5 65.3L322.8 85.3M336.5 65.3L338 91M336.5 65.3L359.5 79M336.5 65.3L323.3 44.5M322.8 85.3L338 91M322.8 85.3L359.5 79M322.8 85.3L323.3 44.5M435.2 97.8L399.4 130M435.2 97.8L449.3 126.7M435.2 97.8L515.8 41.8M399.4 130L449.3 126.7M399.4 130L312.5 153.8M449.3 126.7L454 200.8M449.3 126.7L523 105M449.3 126.7L514.3 59.5M449.3 126.7L504.5 27.8M449.3 231.3L454 200.8M449.3 231.3L425.8 219M525.5 198.8L525.8 183.8M338 91L359.5 79M338 91L323.3 44.5M338 91L535.5 117.8M454 200.8L452.5 216.8M454 200.8L424.5 178.5M454 200.8L425.8 219M359.5 79L323.3 44.5M406.8 235.8L425.8 219M323.3 44.5L523 105M323.3 44.5L404.9 20.8M523 105L535.5 117.8M452.5 216.8L425.8 219M514.3 59.5L534.8 68.8M514.3 59.5L515.8 41.8M514.3 59.5L504.5 27.8M514.3 59.5L488.5 55.8M515.8 41.8L504.5 27.8M515.8 41.8L489.8 42.5M504.5 27.8L489.8 42.5M424.5 178.5L425.8 219M489.8 42.5L488.5 55.8" stroke="#939393" stroke-width="0.45" fill="none" opacity="0.85"/>
<circle cx="323.3" cy="44.5" r="5.75" fill="#5b64b2"/>
<circle cx="350.3" cy="46.5" r="5.5" fill="#5b64b2"/>
<circle cx="299.3" cy="56.5" r="5" fill="#5b64b2"/>
<circle cx="316" cy="65.5" r="5.25" fill="#5b64b2"/>
<circle cx="336.5" cy="65.3" r="6.25" fill="#5b64b2"/>
<circle cx="362.3" cy="61.5" r="4.75" fill="#5b64b2"/>
<circle cx="294.8" cy="76.8" r="5" fill="#5b64b2"/>
<circle cx="359.5" cy="79" r="4.25" fill="#5b64b2"/>
<circle cx="322.8" cy="85.3" r="6" fill="#5b64b2"/>
<circle cx="338" cy="91" r="3.25" fill="#5b64b2"/>
<circle cx="302.5" cy="95" r="4" fill="#5b64b2"/>
<circle cx="354.3" cy="99" r="5.25" fill="#5b64b2"/>
<circle cx="315.3" cy="106.8" r="5.5" fill="#5b64b2"/>
<circle cx="334.5" cy="111" r="2.5" fill="#5b64b2"/>
<circle cx="421.4" cy="12.3" r="2.9" fill="#9a1f99"/>
<circle cx="404.9" cy="20.8" r="2.5" fill="#9a1f99"/>
<circle cx="440.6" cy="21.1" r="2.5" fill="#9a1f99"/>
<circle cx="421.1" cy="27.3" r="2.5" fill="#9a1f99"/>
<circle cx="437.2" cy="36.3" r="3" fill="#9a1f99"/>
<circle cx="411.9" cy="39.5" r="2.5" fill="#9a1f99"/>
<circle cx="410.8" cy="98.5" r="2.5" fill="#9b9b9b"/>
<circle cx="435.2" cy="97.8" r="2.5" fill="#9b9b9b"/>
<circle cx="400.3" cy="114.3" r="2.5" fill="#9b9b9b"/>
<circle cx="399.4" cy="130" r="2.75" fill="#9b9b9b"/>
<circle cx="450.3" cy="110.3" r="2.5" fill="#9b9b9b"/>
<circle cx="449.3" cy="126.7" r="2.75" fill="#9b9b9b"/>
<circle cx="414.3" cy="142.4" r="3.75" fill="#9b9b9b"/>
<circle cx="441.1" cy="144.3" r="3.75" fill="#9b9b9b"/>
<circle cx="425.8" cy="120.6" r="6.5" fill="#f2e41e"/>
<circle cx="504.5" cy="27.8" r="2.75" fill="#2ab7f0"/>
<circle cx="527" cy="27.8" r="3" fill="#2ab7f0"/>
<circle cx="489.8" cy="42.5" r="2.5" fill="#2ab7f0"/>
<circle cx="515.8" cy="41.8" r="2.5" fill="#2ab7f0"/>
<circle cx="535.3" cy="50.3" r="4.25" fill="#2ab7f0"/>
<circle cx="488.5" cy="55.8" r="2.5" fill="#2ab7f0"/>
<circle cx="514.3" cy="59.5" r="3.75" fill="#2ab7f0"/>
<circle cx="493.3" cy="71" r="3" fill="#2ab7f0"/>
<circle cx="534.8" cy="68.8" r="3" fill="#2ab7f0"/>
<circle cx="511.8" cy="76.8" r="3.5" fill="#2ab7f0"/>
<circle cx="523" cy="105" r="3.5" fill="#c9c92d"/>
<circle cx="508.3" cy="117.3" r="2.5" fill="#c9c92d"/>
<circle cx="535.5" cy="117.8" r="3.75" fill="#c9c92d"/>
<circle cx="516" cy="133.2" r="2.75" fill="#c9c92d"/>
<circle cx="535.8" cy="136" r="3.25" fill="#c9c92d"/>
<circle cx="335" cy="143.3" r="2.75" fill="#3cb34a"/>
<circle cx="312.5" cy="153.8" r="3.5" fill="#3cb34a"/>
<circle cx="350.8" cy="160" r="3.75" fill="#3cb34a"/>
<circle cx="329.5" cy="161.8" r="3.5" fill="#3cb34a"/>
<circle cx="311.8" cy="171.5" r="3.25" fill="#3cb34a"/>
<circle cx="350.8" cy="176.8" r="4.75" fill="#3cb34a"/>
<circle cx="323.3" cy="185.5" r="2.75" fill="#3cb34a"/>
<circle cx="424.5" cy="178.5" r="3.5" fill="#f39aa2"/>
<circle cx="407.3" cy="186" r="4" fill="#f39aa2"/>
<circle cx="441.8" cy="184.8" r="2.75" fill="#f39aa2"/>
<circle cx="423.9" cy="200" r="2.75" fill="#f39aa2"/>
<circle cx="397.3" cy="202.8" r="3.5" fill="#f39aa2"/>
<circle cx="454" cy="200.8" r="4.75" fill="#f39aa2"/>
<circle cx="452.5" cy="216.8" r="2.5" fill="#f39aa2"/>
<circle cx="425.8" cy="219" r="5" fill="#f39aa2"/>
<circle cx="399.5" cy="221.8" r="3.5" fill="#f39aa2"/>
<circle cx="449.3" cy="231.3" r="2.5" fill="#f39aa2"/>
<circle cx="406.8" cy="235.8" r="2.5" fill="#f39aa2"/>
<circle cx="430.9" cy="236" r="3.1" fill="#f39aa2"/>
<circle cx="512.3" cy="175.5" r="2.5" fill="#e9331f"/>
<circle cx="525.8" cy="183.8" r="3" fill="#e9331f"/>
<circle cx="499" cy="185.8" r="2.5" fill="#e9331f"/>
<circle cx="506.3" cy="199.5" r="2.5" fill="#e9331f"/>
<circle cx="525.5" cy="198.8" r="2.5" fill="#e9331f"/>
<g font-size="5.7" text-anchor="middle" fill="#000">
<text x="317.8" y="55.8">RELA</text>
<text x="344.5" y="57.0">IFIT1</text>
<text x="294.3" y="67.0">IFIT2</text>
<text x="310.5" y="76.3">IFIT3</text>
<text x="330.8" y="76.5">OAS3</text>
<text x="357" y="72.3">IFIH1</text>
<text x="290" y="87.5">DDX58</text>
<text x="355.5" y="88.5">PSMB10</text>
<text x="316.5" y="97.0">OASL</text>
<text x="334.3" y="100.3">PML</text>
<text x="298" y="104.8">IFIT5</text>
<text x="349" y="110.0">HLA-C</text>
<text x="310" y="117.8">HERC5</text>
<text x="332.3" y="118.8">DAXX</text>
<text x="418" y="21.0">ABI1</text>
<text x="402.8" y="28.8">ROCK2</text>
<text x="438" y="28.8">DIAPH3</text>
<text x="418.5" y="35.0">ARHGEF7</text>
<text x="434" y="44.5">BCAR1</text>
<text x="409.6" y="47.8">LAMB3</text>
<text x="408.5" y="107.0">MRPL40</text>
<text x="432.6" y="105.8">P4HA1</text>
<text x="397.5" y="122.3">GNB2</text>
<text x="396.9" y="138.0">P4HA2</text>
<text x="448" y="118.5">GNAI2</text>
<text x="446.5" y="135.0">PDIA3</text>
<text x="410.6" y="151.9">ANAPC4</text>
<text x="437.5" y="154.3">ANAPC5</text>
<text x="419.5" y="132.5">HULC</text>
<text x="501.8" y="36.0">TAPBP</text>
<text x="524.5" y="36.0">DCTN4</text>
<text x="487.5" y="50.3">VPS33A</text>
<text x="513.3" y="49.8">SQSTM1</text>
<text x="531.8" y="59.5">COPG2</text>
<text x="486.5" y="63.8">ZFYVE20</text>
<text x="510.5" y="68.8">SEC23A</text>
<text x="490.3" y="79.8">NAPG</text>
<text x="532.3" y="77.0">SEC23B</text>
<text x="508.5" y="85.8">KIF2A</text>
<text x="520.3" y="114.0">RELB</text>
<text x="506" y="125.5">NCOR2</text>
<text x="531.8" y="127.0">SMARCA4</text>
<text x="513" y="141.8">GMNN</text>
<text x="532.5" y="144.5">NFKB2</text>
<text x="332.5" y="151.8">HIST1H4I</text>
<text x="309" y="162.8">XRCC1</text>
<text x="347.3" y="169.5">CUL4B</text>
<text x="325.8" y="171.0">LIG1</text>
<text x="308.3" y="181.0">MRE11A</text>
<text x="346.3" y="187.0">HIST1H2AJ</text>
<text x="320.8" y="194.0">RAD21</text>
<text x="420.9" y="187.8">TSR1</text>
<text x="403.5" y="196.0">CDC5L</text>
<text x="438.8" y="193.5">DDX50</text>
<text x="421.1" y="208.8">DDX24</text>
<text x="393.5" y="212.0">DHX16</text>
<text x="449.5" y="211.0">PRPF8</text>
<text x="449.8" y="224.8">RIOK1</text>
<text x="421.2" y="229.8">XAB2</text>
<text x="396" y="231.0">CPSF3</text>
<text x="446.5" y="239.3">PELP1</text>
<text x="404.9" y="243.8">RBM25</text>
<text x="427.4" y="245.0">MFAP1</text>
<text x="509.5" y="183.5">ECD</text>
<text x="522.8" y="192.3">PKM2</text>
<text x="496.3" y="194.0">CPT1A</text>
<text x="503.5" y="207.5">LDHA</text>
<text x="522.8" y="207.0">PFKP</text>
</g>
<g font-size="8.25" text-anchor="middle">
<text x="580.9" y="43.1">Node</text><text x="580.9" y="52.6">size</text>
<text x="617.9" y="43.1">Connection</text><text x="617.9" y="52.6">degree</text>
<text x="618.1" y="66.8">2–4</text>
<text x="618.1" y="77.4">3–5</text>
<text x="618.1" y="87.8">6–8</text>
<text x="618.1" y="101.3">9–12</text>
</g>
<circle cx="580.9" cy="63.6" r="1.6" fill="#3a4fa8"/>
<circle cx="580.9" cy="74.4" r="2.3" fill="#3a4fa8"/>
<circle cx="580.9" cy="84.8" r="3.2" fill="#3a4fa8"/>
<circle cx="580.9" cy="97.3" r="4.4" fill="#3a4fa8"/>
<text x="556.9" y="125.7" font-size="8.25">Functional clusters</text>
<circle cx="563.9" cy="136.7" r="3.6" fill="#e9351f"/><text x="571.5" y="139.7" font-size="8.25">Metabolism</text>
<circle cx="563.9" cy="148.5" r="3.6" fill="#8e3ba6"/><text x="571.5" y="151.5" font-size="8.25">Cell adhesion</text>
<circle cx="563.9" cy="160.4" r="3.6" fill="#5f68b4"/><text x="571.5" y="163.4" font-size="8.25">Response to virus</text>
<circle cx="563.9" cy="172.2" r="3.6" fill="#f39ca4"/><text x="571.5" y="175.2" font-size="8.25">RNA processing</text>
<circle cx="563.9" cy="184.1" r="3.6" fill="#2bbdf3"/><text x="571.5" y="187.1" font-size="8.25">Vesicle transport</text>
<circle cx="563.9" cy="195.5" r="3.6" fill="#c9c92c"/><text x="571.5" y="198.5" font-size="8.25">Transcriptinonal regulation</text>
<circle cx="563.9" cy="207.6" r="3.6" fill="#3db54a"/><text x="571.5" y="210.6" font-size="8.25">DNA repair</text>
<circle cx="563.9" cy="219.7" r="3.6" fill="#9a9a9a"/><text x="571.5" y="222.7" font-size="8.25">Others</text>
<text x="278.6" y="10" font-size="12.6" font-weight="bold">b</text>
</g>
<g id="panel-c">
<defs><filter id="b1" x="-20%" y="-60%" width="140%" height="220%"><feGaussianBlur stdDeviation="0.8"/></filter><filter id="b2" x="-20%" y="-80%" width="140%" height="260%"><feGaussianBlur stdDeviation="1.7"/></filter><filter id="b3" x="-20%" y="-80%" width="140%" height="260%"><feGaussianBlur stdDeviation="1.2"/></filter><filter id="b0" x="-20%" y="-60%" width="140%" height="220%"><feGaussianBlur stdDeviation="0.5"/></filter><linearGradient id="glow" x1="0" y1="0" x2="0" y2="1"><stop offset="0" stop-color="#909090" stop-opacity="0.95"/><stop offset="0.22" stop-color="#757575" stop-opacity="0.85"/><stop offset="0.6" stop-color="#555" stop-opacity="0.5"/><stop offset="1" stop-color="#444" stop-opacity="0.1"/></linearGradient><linearGradient id="lg3" x1="0" y1="0" x2="1" y2="0"><stop offset="0" stop-color="#9a9a9a"/><stop offset="0.5" stop-color="#ababab"/><stop offset="1" stop-color="#b0b0b0"/></linearGradient><linearGradient id="gel2" x1="0" y1="0" x2="0" y2="1"><stop offset="0" stop-color="#030303"/><stop offset="0.5" stop-color="#080808"/><stop offset="1" stop-color="#1b1b1b"/></linearGradient><linearGradient id="gel1" x1="0" y1="0" x2="1" y2="0"><stop offset="0" stop-color="#2e2e2e"/><stop offset="0.25" stop-color="#202020"/><stop offset="1" stop-color="#1c1c1c"/></linearGradient></defs>
<text x="-0.3" y="287" font-size="12.6" font-weight="bold">c</text>
<text x="39.3" y="292.4" font-size="7.8" text-anchor="middle">IgG</text>
<text x="85.8" y="288.4" font-size="7.8" text-anchor="middle">anti-</text><text x="85.8" y="296.1" font-size="7.8" text-anchor="middle">TGM2</text>
<path d="M21.5 298.3h33.5M69.3 298.3h33.8" stroke="#333" stroke-width="0.6"/>
<text transform="translate(21.7,327.2) rotate(-45)" font-size="7.8">LincRNA-</text>
<text transform="translate(34.6,327.4) rotate(-45)" font-size="7.8">p21</text>
<text transform="translate(48.7,327.4) rotate(-45)" font-size="7.8">HULC</text>
<text transform="translate(64.9,327.2) rotate(-45)" font-size="7.8">LincRNA-</text>
<text transform="translate(76.9,327.4) rotate(-45)" font-size="7.8">p21</text>
<text transform="translate(91.9,327.4) rotate(-45)" font-size="7.8">HULC</text>
<text x="18.8" y="337.4" font-size="7.8" text-anchor="end">(kDa)</text>
<rect x="21.3" y="333" width="82.5" height="24" fill="#bbbbbb"/>
<rect x="59.5" y="344.7" width="16.5" height="5.6" rx="6.7" ry="2.8" fill="#262626" opacity="1" filter="url(#b3)"/>
<rect x="81.0" y="344.4" width="22.8" height="5.2" rx="7.3" ry="2.6" fill="#262626" opacity="1" filter="url(#b3)"/>
<text x="13.1" y="356.1" font-size="7.8" text-anchor="end">70</text>
<path d="M14.3 353.3h6.8" stroke="#222" stroke-width="0.7"/>
<text x="105.8" y="349.4" font-size="7.8">TGM2</text>
<text x="61.3" y="373.7" font-size="7.8" text-anchor="middle">Input</text>
<path d="M31.3 377.5h62.4" stroke="#333" stroke-width="0.6"/>
<rect x="21.3" y="382" width="82.5" height="24.8" fill="#b3b3b3"/>
<rect x="22.5" y="399.0" width="16.8" height="3.6" rx="5.8" ry="1.8" fill="#151515" opacity="1" filter="url(#b1)"/>
<rect x="42.5" y="399.0" width="18.0" height="3.6" rx="5.8" ry="1.8" fill="#151515" opacity="1" filter="url(#b1)"/>
<rect x="63.3" y="399.0" width="17.2" height="3.6" rx="5.8" ry="1.8" fill="#151515" opacity="1" filter="url(#b1)"/>
<rect x="83.3" y="399.1" width="17.2" height="3.4" rx="5.4" ry="1.7" fill="#151515" opacity="1" filter="url(#b1)"/>
<text x="13.1" y="407.1" font-size="7.8" text-anchor="end">70</text><path d="M14.3 404.3h6.8" stroke="#222" stroke-width="0.7"/>
<text x="105.8" y="402.4" font-size="7.8">TGM2</text>
<rect x="21.3" y="408.8" width="82.5" height="24" fill="#b6b6b6"/>
<rect x="22.8" y="421.5" width="21.8" height="5.6" rx="9.0" ry="2.8" fill="#151515" opacity="1" filter="url(#b1)"/>
<rect x="44.2" y="421.5" width="20.4" height="5.6" rx="9.0" ry="2.8" fill="#151515" opacity="1" filter="url(#b1)"/>
<rect x="64.2" y="421.6" width="20.4" height="5.4" rx="8.6" ry="2.7" fill="#151515" opacity="1" filter="url(#b1)"/>
<rect x="84.2" y="421.7" width="18.8" height="5.2" rx="8.3" ry="2.6" fill="#151515" opacity="1" filter="url(#b1)"/>
<text x="13.1" y="415.3" font-size="7.8" text-anchor="end">55</text><path d="M14.3 412.5h6.8" stroke="#222" stroke-width="0.7"/>
<text x="13.1" y="431.8" font-size="7.8" text-anchor="end">40</text><path d="M14.3 429h6.8" stroke="#222" stroke-width="0.7"/>
<text x="105.8" y="426.0" font-size="7.8"><tspan font-family="Liberation Serif,serif" font-size="8.4">β</tspan>-actin</text>
<text x="172.5" y="292.4" font-size="7.8" text-anchor="middle">IgG</text>
<text x="219" y="288.4" font-size="7.8" text-anchor="middle">anti-</text><text x="219" y="296.1" font-size="7.8" text-anchor="middle">DDX58</text>
<path d="M155 298.3h33.5M202.5 298.3h33.8" stroke="#333" stroke-width="0.6"/>
<text transform="translate(156.9,327.2) rotate(-45)" font-size="7.8">LincRNA-</text>
<text transform="translate(169.4,327.4) rotate(-45)" font-size="7.8">p21</text>
<text transform="translate(179.9,327.4) rotate(-45)" font-size="7.8">HULC</text>
<text transform="translate(198.4,327.2) rotate(-45)" font-size="7.8">LincRNA-</text>
<text transform="translate(210.1,327.4) rotate(-45)" font-size="7.8">p21</text>
<text transform="translate(222.9,327.4) rotate(-45)" font-size="7.8">HULC</text>
<text x="152" y="337.4" font-size="7.8" text-anchor="end">(kDa)</text>
<rect x="154.3" y="332.5" width="82.0" height="24" fill="#bdbdbd"/>
<rect x="194.5" y="342.8" width="17.3" height="3.4" rx="5.4" ry="1.7" fill="#1c1c1c" opacity="1" filter="url(#b1)"/>
<rect x="216.5" y="342.2" width="17.8" height="3.6" rx="5.8" ry="1.8" fill="#1a1a1a" opacity="1" filter="url(#b1)"/>
<text x="146.1" y="345.4" font-size="7.8" text-anchor="end">100</text>
<path d="M147.3 342.6h6.8" stroke="#222" stroke-width="0.7"/>
<text x="238.3" y="347.3" font-size="7.8">DDX58</text>
<text x="194.3" y="373.7" font-size="7.8" text-anchor="middle">Input</text>
<path d="M164.3 377.5h62.4" stroke="#333" stroke-width="0.6"/>
<rect x="154.3" y="382" width="82.0" height="24.8" fill="#b4b4b4"/>
<rect x="158.3" y="394.9" width="16.0" height="2.8" rx="4.5" ry="1.4" fill="#151515" opacity="1" filter="url(#b1)"/>
<rect x="178.3" y="394.9" width="16.0" height="2.8" rx="4.5" ry="1.4" fill="#151515" opacity="1" filter="url(#b1)"/>
<rect x="198.3" y="394.9" width="16.0" height="2.8" rx="4.5" ry="1.4" fill="#151515" opacity="1" filter="url(#b1)"/>
<rect x="218.3" y="394.9" width="16.0" height="2.8" rx="4.5" ry="1.4" fill="#151515" opacity="1" filter="url(#b1)"/>
<text x="146.1" y="396.1" font-size="7.8" text-anchor="end">100</text><path d="M147.3 393.3h6.8" stroke="#222" stroke-width="0.7"/>
<text x="238.3" y="400.3" font-size="7.8">DDX58</text>
<rect x="154.3" y="408.8" width="82.0" height="24" fill="#b9b9b9"/>
<rect x="158.0" y="421.9" width="16.0" height="2.8" rx="4.5" ry="1.4" fill="#151515" opacity="1" filter="url(#b1)"/>
<rect x="178.0" y="421.9" width="16.0" height="2.8" rx="4.5" ry="1.4" fill="#151515" opacity="1" filter="url(#b1)"/>
<rect x="198.0" y="422.0" width="15.5" height="2.6" rx="4.2" ry="1.3" fill="#151515" opacity="1" filter="url(#b1)"/>
<rect x="218.0" y="421.9" width="16.0" height="2.8" rx="4.5" ry="1.4" fill="#151515" opacity="1" filter="url(#b1)"/>
<text x="146.1" y="414.8" font-size="7.8" text-anchor="end">55</text><path d="M147.3 412h6.8" stroke="#222" stroke-width="0.7"/>
<text x="146.1" y="431.1" font-size="7.8" text-anchor="end">40</text><path d="M147.3 428.3h6.8" stroke="#222" stroke-width="0.7"/>
<text x="238.3" y="425.8" font-size="7.8"><tspan font-family="Liberation Serif,serif" font-size="8.4">β</tspan>-actin</text>
<text x="304.3" y="292.4" font-size="7.8" text-anchor="middle">IgG</text>
<text x="353.5" y="288.4" font-size="7.8" text-anchor="middle">anti-</text><text x="353.5" y="296.1" font-size="7.8" text-anchor="middle">LGALS3BP</text>
<path d="M289.5 298.3h33.5M336.8 298.3h33.8" stroke="#333" stroke-width="0.6"/>
<text transform="translate(288.9,327.2) rotate(-45)" font-size="7.8">LincRNA-</text>
<text transform="translate(301.4,327.4) rotate(-45)" font-size="7.8">p21</text>
<text transform="translate(315.6,327.4) rotate(-45)" font-size="7.8">HULC</text>
<text transform="translate(332.4,327.2) rotate(-45)" font-size="7.8">LincRNA-</text>
<text transform="translate(344.6,327.4) rotate(-45)" font-size="7.8">p21</text>
<text transform="translate(359.6,327.4) rotate(-45)" font-size="7.8">HULC</text>
<text x="286.3" y="337.4" font-size="7.8" text-anchor="end">(kDa)</text>
<rect x="290" y="332.5" width="81.8" height="24" fill="url(#lg3)"/>
<rect x="330.3" y="341.2" width="16.5" height="4.2" rx="6.7" ry="2.1" fill="#2e2e2e" opacity="1" filter="url(#b3)"/>
<rect x="350.0" y="341.4" width="18.0" height="3.8" rx="6.1" ry="1.9" fill="#303030" opacity="1" filter="url(#b3)"/>
<text x="281.8" y="351.3" font-size="7.8" text-anchor="end">70</text>
<path d="M283.0 348.5h6.8" stroke="#222" stroke-width="0.7"/>
<text x="373.8" y="344.1" font-size="7.8">LGALS3BP</text>
<text x="330" y="373.7" font-size="7.8" text-anchor="middle">Input</text>
<path d="M300 377.5h62.4" stroke="#333" stroke-width="0.6"/>
<rect x="290" y="382" width="81.8" height="24.8" fill="#a2a2a2"/>
<rect x="290.5" y="387.9" width="18.5" height="5.8" rx="8.1" ry="2.9" fill="#1e1e1e" opacity="1" filter="url(#b3)"/>
<rect x="311.0" y="387.9" width="18.5" height="5.8" rx="8.1" ry="2.9" fill="#1a1a1a" opacity="1" filter="url(#b3)"/>
<rect x="332.0" y="386.9" width="18.0" height="6.2" rx="8.7" ry="3.1" fill="#161616" opacity="1" filter="url(#b3)"/>
<rect x="352.0" y="387.6" width="18.5" height="5.8" rx="8.1" ry="2.9" fill="#1e1e1e" opacity="1" filter="url(#b3)"/>
<text x="281.8" y="399.8" font-size="7.8" text-anchor="end">70</text><path d="M283.0 397h6.8" stroke="#222" stroke-width="0.7"/>
<text x="373.8" y="397.3" font-size="7.8">LGALS3BP</text>
<rect x="290" y="408.8" width="81.8" height="24" fill="#b4b4b4"/>
<rect x="290.5" y="419.9" width="18.0" height="4.2" rx="6.7" ry="2.1" fill="#151515" opacity="1" filter="url(#b1)"/>
<rect x="310.5" y="419.9" width="18.5" height="4.2" rx="6.7" ry="2.1" fill="#151515" opacity="1" filter="url(#b1)"/>
<rect x="331.0" y="419.9" width="19.0" height="4.2" rx="6.7" ry="2.1" fill="#151515" opacity="1" filter="url(#b1)"/>
<rect x="352.5" y="419.9" width="18.5" height="4.2" rx="6.7" ry="2.1" fill="#151515" opacity="1" filter="url(#b1)"/>
<text x="281.8" y="413.6" font-size="7.8" text-anchor="end">55</text><path d="M283.0 410.8h6.8" stroke="#222" stroke-width="0.7"/>
<text x="281.8" y="431.1" font-size="7.8" text-anchor="end">40</text><path d="M283.0 428.3h6.8" stroke="#222" stroke-width="0.7"/>
<text x="373.8" y="422.1" font-size="7.8"><tspan font-family="Liberation Serif,serif" font-size="8.4">β</tspan>-actin</text>
<text x="460" y="292.4" font-size="7.8" text-anchor="middle">IgG</text>
<text x="508" y="292.4" font-size="7.8" text-anchor="middle">anti-H2A</text>
<path d="M445.5 298.3h33.5M492.5 298.3h33.8" stroke="#333" stroke-width="0.6"/>
<text transform="translate(444.2,327.2) rotate(-45)" font-size="7.8">LincRNA-</text>
<text transform="translate(456.4,327.4) rotate(-45)" font-size="7.8">p21</text>
<text transform="translate(468.6,327.4) rotate(-45)" font-size="7.8">HULC</text>
<text transform="translate(486.2,327.2) rotate(-45)" font-size="7.8">LincRNA-</text>
<text transform="translate(498.4,327.4) rotate(-45)" font-size="7.8">p21</text>
<text transform="translate(513.4,327.4) rotate(-45)" font-size="7.8">HULC</text>
<text x="439.3" y="337.4" font-size="7.8" text-anchor="end">(kDa)</text>
<rect x="443" y="332.5" width="82.0" height="24" fill="#b7b7b7"/>
<rect x="486.5" y="342.8" width="18.5" height="5.0" rx="9.0" ry="2.5" fill="#141414" opacity="1" filter="url(#b3)"/>
<rect x="506.0" y="342.7" width="17.0" height="3.6" rx="6.5" ry="1.8" fill="#1c1c1c" opacity="1" filter="url(#b3)"/>
<text x="434.8" y="348.3" font-size="7.8" text-anchor="end">15</text>
<path d="M436.0 345.5h6.8" stroke="#222" stroke-width="0.7"/>
<text x="527.0" y="347.3" font-size="7.8">H2A</text>
<text x="481.8" y="373.7" font-size="7.8" text-anchor="middle">Input</text>
<path d="M452 377.5h62.4" stroke="#333" stroke-width="0.6"/>
<rect x="443" y="382" width="82.0" height="24.8" fill="#a4a4a4"/>
<text x="434.8" y="399.6" font-size="7.8" text-anchor="end">15</text><path d="M436.0 396.8h6.8" stroke="#222" stroke-width="0.7"/>
<text x="527.0" y="398.3" font-size="7.8">H2A</text>
<rect x="443" y="408.8" width="82.0" height="24" fill="#b1b1b1"/>
<rect x="448.3" y="417.2" width="16.2" height="4.6" rx="7.4" ry="2.3" fill="#151515" opacity="1" filter="url(#b1)"/>
<rect x="467.0" y="417.2" width="17.5" height="4.6" rx="7.4" ry="2.3" fill="#151515" opacity="1" filter="url(#b1)"/>
<rect x="487.0" y="417.3" width="16.0" height="4.4" rx="7.0" ry="2.2" fill="#151515" opacity="1" filter="url(#b1)"/>
<rect x="505.8" y="416.7" width="16.2" height="4.6" rx="7.4" ry="2.3" fill="#151515" opacity="1" filter="url(#b1)"/>
<text x="434.8" y="413.6" font-size="7.8" text-anchor="end">55</text><path d="M436.0 410.8h6.8" stroke="#222" stroke-width="0.7"/>
<text x="434.8" y="428.6" font-size="7.8" text-anchor="end">40</text><path d="M436.0 425.8h6.8" stroke="#222" stroke-width="0.7"/>
<text x="527.0" y="424.1" font-size="7.8"><tspan font-family="Liberation Serif,serif" font-size="8.4">β</tspan>-actin</text>
<text x="594" y="292.4" font-size="7.8" text-anchor="middle">IgG</text>
<text x="643" y="288.4" font-size="7.8" text-anchor="middle">anti-</text><text x="643" y="296.1" font-size="7.8" text-anchor="middle">PDIA3</text>
<path d="M579.5 298.3h33.5M626.5 298.3h33.8" stroke="#333" stroke-width="0.6"/>
<text transform="translate(575.9,327.2) rotate(-45)" font-size="7.8">LincRNA-</text>
<text transform="translate(588.1,327.4) rotate(-45)" font-size="7.8">p21</text>
<text transform="translate(600.9,327.4) rotate(-45)" font-size="7.8">HULC</text>
<text transform="translate(617.1,327.2) rotate(-45)" font-size="7.8">LincRNA-</text>
<text transform="translate(629.4,327.4) rotate(-45)" font-size="7.8">p21</text>
<text transform="translate(644.1,327.4) rotate(-45)" font-size="7.8">HULC</text>
<text x="574.5" y="337.4" font-size="7.8" text-anchor="end">(kDa)</text>
<rect x="578.5" y="332.5" width="81.8" height="24" fill="#bababa"/>
<rect x="617.3" y="340.1" width="16.5" height="3.9" rx="7.0" ry="1.9" fill="#0c0c0c" opacity="1" filter="url(#b0)"/>
<rect x="636.0" y="340.1" width="16.8" height="3.9" rx="7.0" ry="1.9" fill="#0c0c0c" opacity="1" filter="url(#b0)"/>
<text x="570.3" y="349.6" font-size="7.8" text-anchor="end">55</text>
<path d="M571.5 346.8h6.8" stroke="#222" stroke-width="0.7"/>
<text x="662.3" y="345.3" font-size="7.8">PDIA3</text>
<text x="618.5" y="373.7" font-size="7.8" text-anchor="middle">Input</text>
<path d="M589 377.5h62.4" stroke="#333" stroke-width="0.6"/>
<rect x="578.5" y="382" width="81.8" height="24.8" fill="#adadad"/>
<rect x="584.8" y="392.6" width="17.2" height="4.8" rx="7.2" ry="2.4" fill="#0c0c0c" opacity="1" filter="url(#b0)"/>
<rect x="603.5" y="392.6" width="17.3" height="4.8" rx="7.2" ry="2.4" fill="#0c0c0c" opacity="1" filter="url(#b0)"/>
<rect x="621.8" y="392.6" width="16.5" height="4.8" rx="7.2" ry="2.4" fill="#0c0c0c" opacity="1" filter="url(#b0)"/>
<rect x="639.8" y="392.6" width="16.0" height="4.8" rx="7.2" ry="2.4" fill="#0c0c0c" opacity="1" filter="url(#b0)"/>
<text x="570.3" y="402.3" font-size="7.8" text-anchor="end">55</text><path d="M571.5 399.5h6.8" stroke="#222" stroke-width="0.7"/>
<text x="662.3" y="398.3" font-size="7.8">PDIA3</text>
<rect x="578.5" y="408.8" width="81.8" height="24" fill="#b3b3b3"/>
<rect x="587.3" y="417.1" width="14.7" height="3.5" rx="6.3" ry="1.8" fill="#0e0e0e" opacity="1" filter="url(#b0)"/>
<rect x="604.8" y="417.1" width="14.7" height="3.5" rx="6.3" ry="1.8" fill="#0e0e0e" opacity="1" filter="url(#b0)"/>
<rect x="622.8" y="417.1" width="14.7" height="3.5" rx="6.3" ry="1.8" fill="#0e0e0e" opacity="1" filter="url(#b0)"/>
<rect x="640.5" y="417.1" width="13.5" height="3.5" rx="6.3" ry="1.8" fill="#0e0e0e" opacity="1" filter="url(#b0)"/>
<text x="570.3" y="412.3" font-size="7.8" text-anchor="end">55</text><path d="M571.5 409.5h6.8" stroke="#222" stroke-width="0.7"/>
<text x="570.3" y="427.3" font-size="7.8" text-anchor="end">40</text><path d="M571.5 424.5h6.8" stroke="#222" stroke-width="0.7"/>
<text x="662.3" y="423.3" font-size="7.8"><tspan font-family="Liberation Serif,serif" font-size="8.4">β</tspan>-actin</text>
<rect x="60.0" y="336.4" width="15.0" height="1.2" rx="1.9" ry="0.6" fill="#999" opacity="0.7" filter="url(#b1)"/>
<rect x="60.0" y="348.5" width="16.0" height="7.0" rx="4.2" ry="3.5" fill="#4a4a4a" opacity="0.6" filter="url(#b3)"/>
<rect x="82.0" y="348.2" width="21.5" height="4.5" rx="3.6" ry="2.2" fill="#5a5a5a" opacity="0.5" filter="url(#b3)"/>
<rect x="329.5" y="340.0" width="18.0" height="9.0" rx="7.2" ry="4.5" fill="#6a6a6a" opacity="0.45" filter="url(#b2)"/>
<rect x="349.5" y="340.0" width="19.0" height="9.0" rx="7.2" ry="4.5" fill="#6a6a6a" opacity="0.4" filter="url(#b2)"/>
<rect x="486.0" y="341.5" width="20.0" height="8.0" rx="6.4" ry="4.0" fill="#707070" opacity="0.45" filter="url(#b2)"/>
<rect x="505.5" y="341.5" width="18.0" height="7.0" rx="5.6" ry="3.5" fill="#707070" opacity="0.4" filter="url(#b2)"/>
<rect x="195.0" y="350.2" width="16.0" height="1.6" rx="2.6" ry="0.8" fill="#8a8a8a" opacity="0.7" filter="url(#b1)"/>
<rect x="217.0" y="350.2" width="16.5" height="1.6" rx="2.6" ry="0.8" fill="#909090" opacity="0.6" filter="url(#b1)"/>
<rect x="158.8" y="390.2" width="15.0" height="2.0" rx="3.2" ry="1.0" fill="#555" opacity="0.8" filter="url(#b1)"/>
<rect x="158.8" y="386.8" width="15.0" height="1.4" rx="2.2" ry="0.7" fill="#777" opacity="0.6" filter="url(#b1)"/>
<rect x="158.8" y="399.8" width="15.0" height="1.4" rx="2.2" ry="0.7" fill="#777" opacity="0.55" filter="url(#b1)"/>
<rect x="178.8" y="390.2" width="15.0" height="2.0" rx="3.2" ry="1.0" fill="#555" opacity="0.8" filter="url(#b1)"/>
<rect x="178.8" y="386.8" width="15.0" height="1.4" rx="2.2" ry="0.7" fill="#777" opacity="0.6" filter="url(#b1)"/>
<rect x="178.8" y="399.8" width="15.0" height="1.4" rx="2.2" ry="0.7" fill="#777" opacity="0.55" filter="url(#b1)"/>
<rect x="198.8" y="390.2" width="15.0" height="2.0" rx="3.2" ry="1.0" fill="#555" opacity="0.8" filter="url(#b1)"/>
<rect x="198.8" y="386.8" width="15.0" height="1.4" rx="2.2" ry="0.7" fill="#777" opacity="0.6" filter="url(#b1)"/>
<rect x="198.8" y="399.8" width="15.0" height="1.4" rx="2.2" ry="0.7" fill="#777" opacity="0.55" filter="url(#b1)"/>
<rect x="218.8" y="390.2" width="15.0" height="2.0" rx="3.2" ry="1.0" fill="#555" opacity="0.8" filter="url(#b1)"/>
<rect x="218.8" y="386.8" width="15.0" height="1.4" rx="2.2" ry="0.7" fill="#777" opacity="0.6" filter="url(#b1)"/>
<rect x="218.8" y="399.8" width="15.0" height="1.4" rx="2.2" ry="0.7" fill="#777" opacity="0.55" filter="url(#b1)"/>
<rect x="331.0" y="349.0" width="15.0" height="2.0" rx="3.2" ry="1.0" fill="#858585" opacity="0.6" filter="url(#b3)"/>
<rect x="351.0" y="349.0" width="16.0" height="2.0" rx="3.2" ry="1.0" fill="#8c8c8c" opacity="0.5" filter="url(#b3)"/>
<rect x="290.5" y="394.5" width="18.5" height="6.0" rx="9.2" ry="3.0" fill="#555" opacity="0.6" filter="url(#b2)"/>
<rect x="311.0" y="394.5" width="18.5" height="6.0" rx="9.2" ry="3.0" fill="#555" opacity="0.6" filter="url(#b2)"/>
<rect x="332.0" y="394.5" width="18.0" height="6.0" rx="9.0" ry="3.0" fill="#555" opacity="0.6" filter="url(#b2)"/>
<rect x="352.0" y="394.5" width="18.5" height="6.0" rx="9.2" ry="3.0" fill="#555" opacity="0.6" filter="url(#b2)"/>
<rect x="290" y="385" width="81.8" height="9" fill="#555" opacity="0.35" filter="url(#b2)"/>
<rect x="446.0" y="392.1" width="19.3" height="8.8" rx="7.0" ry="4.4" fill="#4e4e4e" opacity="1" filter="url(#b1)"/>
<rect x="466.0" y="391.6" width="18.1" height="8.8" rx="7.0" ry="4.4" fill="#4e4e4e" opacity="1" filter="url(#b1)"/>
<rect x="484.7" y="391.9" width="16.9" height="8.8" rx="7.0" ry="4.4" fill="#4e4e4e" opacity="1" filter="url(#b1)"/>
<path d="M504.5 400.5 L504 393.5 Q512 392 520.5 388 L521.5 396 Q514 400 504.5 400.5Z" fill="#4e4e4e" stroke="#4e4e4e" stroke-width="2" stroke-linejoin="round" filter="url(#b1)"/>
<ellipse cx="449" cy="336" rx="2.5" ry="3" fill="#d8d8d8" filter="url(#b1)"/>
<rect x="587.0" y="383.8" width="13.0" height="1.3" rx="2.1" ry="0.7" fill="#6e6e6e" opacity="0.7" filter="url(#b1)"/>
<rect x="606.0" y="383.8" width="13.0" height="1.3" rx="2.1" ry="0.7" fill="#6e6e6e" opacity="0.7" filter="url(#b1)"/>
<rect x="624.0" y="383.8" width="12.0" height="1.3" rx="2.1" ry="0.7" fill="#6e6e6e" opacity="0.7" filter="url(#b1)"/>
<rect x="642.0" y="383.8" width="12.0" height="1.3" rx="2.1" ry="0.7" fill="#6e6e6e" opacity="0.7" filter="url(#b1)"/>
<text x="213.8" y="453.2" font-size="7.8" text-anchor="middle">Immunoprecipitates</text>
<path d="M131.8 458.3H308.3" stroke="#8a8a8a" stroke-width="0.9"/>
<text x="470.8" y="453.2" font-size="7.8" text-anchor="middle">Immunoprecipitates</text>
<path d="M405.6 458.3H538.3" stroke="#8a8a8a" stroke-width="0.9"/>
<text x="120" y="472.5" font-size="7.8" text-anchor="middle">IgG</text>
<path d="M98 479.4H144.3" stroke="#8a8a8a" stroke-width="0.9"/>
<text x="178.8" y="468.3" font-size="7.8" text-anchor="middle">anti-</text><text x="178.8" y="475.9" font-size="7.8" text-anchor="middle">TGM2</text>
<path d="M155 479.4H201.8" stroke="#8a8a8a" stroke-width="0.9"/>
<text x="237" y="468.3" font-size="7.8" text-anchor="middle">anti-</text><text x="237" y="475.9" font-size="7.8" text-anchor="middle">DDX58</text>
<path d="M213.3 479.4H260" stroke="#8a8a8a" stroke-width="0.9"/>
<text x="295" y="468.3" font-size="7.8" text-anchor="middle">anti-</text><text x="295" y="475.9" font-size="7.8" text-anchor="middle">LGALS3BP</text>
<path d="M272.5 479.4H318.8" stroke="#8a8a8a" stroke-width="0.9"/>
<text x="405.5" y="472.5" font-size="7.8" text-anchor="middle">IgG</text>
<path d="M383.3 479.4H430" stroke="#8a8a8a" stroke-width="0.9"/>
<text x="463.8" y="472.5" font-size="7.8" text-anchor="middle">anti-H2A</text>
<path d="M440.8 479.4H487" stroke="#8a8a8a" stroke-width="0.9"/>
<text x="522.3" y="468.3" font-size="7.8" text-anchor="middle">anti-</text><text x="522.3" y="475.9" font-size="7.8" text-anchor="middle">PDIA3</text>
<path d="M499.3 479.4H545.5" stroke="#8a8a8a" stroke-width="0.9"/>
<text x="626.2" y="475.2" font-size="7.8" text-anchor="middle">Input</text><path d="M612.6 480.2H646.6" stroke="#8a8a8a" stroke-width="0.9"/>
<text transform="translate(105.2,508.4) rotate(-45)" font-size="7.8">LincRNA-</text>
<text transform="translate(116.0,508.6) rotate(-45)" font-size="7.8">p21</text>
<text transform="translate(132.3,508.0) rotate(-45)" font-size="7.8">HULC</text>
<text transform="translate(157.7,507.9) rotate(-45)" font-size="7.8">LincRNA-</text>
<text transform="translate(168.5,507.8) rotate(-45)" font-size="7.8">p21</text>
<text transform="translate(186.1,507.3) rotate(-45)" font-size="7.8">HULC</text>
<text transform="translate(214.0,507.9) rotate(-45)" font-size="7.8">LincRNA-</text>
<text transform="translate(224.7,507.8) rotate(-45)" font-size="7.8">p21</text>
<text transform="translate(240.3,507.3) rotate(-45)" font-size="7.8">HULC</text>
<text transform="translate(268.7,507.9) rotate(-45)" font-size="7.8">LincRNA-</text>
<text transform="translate(279.7,507.8) rotate(-45)" font-size="7.8">p21</text>
<text transform="translate(296.6,507.3) rotate(-45)" font-size="7.8">HULC</text>
<text transform="translate(386.5,507.9) rotate(-45)" font-size="7.8">LincRNA-</text>
<text transform="translate(397.2,507.8) rotate(-45)" font-size="7.8">p21</text>
<text transform="translate(417.3,507.3) rotate(-45)" font-size="7.8">HULC</text>
<text transform="translate(440.7,507.9) rotate(-45)" font-size="7.8">LincRNA-</text>
<text transform="translate(452.2,507.8) rotate(-45)" font-size="7.8">p21</text>
<text transform="translate(472.8,507.3) rotate(-45)" font-size="7.8">HULC</text>
<text transform="translate(499.5,507.9) rotate(-45)" font-size="7.8">LincRNA-</text>
<text transform="translate(510.5,507.8) rotate(-45)" font-size="7.8">p21</text>
<text transform="translate(528.3,507.3) rotate(-45)" font-size="7.8">HULC</text>
<text transform="translate(604.2,507.4) rotate(-45)" font-size="7.8">LincRNA-</text>
<text transform="translate(616.2,507.8) rotate(-45)" font-size="7.8">p21</text>
<text transform="translate(633.8,507.0) rotate(-45)" font-size="7.8">HULC</text>
<g font-size="7.8" text-anchor="end">
<text x="56.2" y="492.1">Marker</text><text x="56.2" y="502.1">(bp)</text>
<text x="56" y="519.3">400</text>
<text x="56" y="527.4">300</text>
<text x="56" y="536.2">200</text>
<text x="56" y="546.4">100</text>
<text x="353.2" y="491.1">Marker</text><text x="353.2" y="500.5">(bp)</text>
<text x="353" y="519.1">400</text>
<text x="353" y="527.1">300</text>
<text x="353" y="534.8">200</text>
<text x="353" y="542.1">100</text>
<text x="580.8" y="500.5">Marker</text><text x="580.8" y="508.6">(bp)</text>
<text x="580.6" y="520.8">300</text>
<text x="580.6" y="530.8">200</text>
<text x="580.6" y="544.8">100</text>
</g>
<rect x="61.3" y="513" width="256.7" height="35.8" fill="url(#gel1)"/>
<rect x="65.0" y="514.5" width="17.5" height="3.6" rx="5.8" ry="1.8" fill="#fff" opacity="0.9" filter="url(#b3)"/>
<rect x="65.0" y="521.2" width="17.5" height="3.6" rx="5.8" ry="1.8" fill="#fff" opacity="0.85" filter="url(#b3)"/>
<rect x="65.0" y="530.0" width="17.5" height="5.0" rx="8.0" ry="2.5" fill="#fff" opacity="0.9" filter="url(#b3)"/>
<rect x="65.0" y="540.8" width="17.5" height="4.4" rx="7.0" ry="2.2" fill="#fff" opacity="0.6" filter="url(#b3)"/>
<rect x="179.5" y="535.4" width="17.3" height="6.8" rx="2.0" ry="3.4" fill="#fff" opacity="1" filter="url(#b1)"/>
<rect x="235.0" y="535.4" width="17.5" height="6.8" rx="2.0" ry="3.4" fill="#fff" opacity="1" filter="url(#b1)"/>
<rect x="291.3" y="535.4" width="15.0" height="5.8" rx="1.7" ry="2.9" fill="#7a7a7a" opacity="0.75" filter="url(#b3)"/>
<rect x="186.0" y="538.2" width="4.5" height="1.6" rx="0.8" ry="0.8" fill="#b4b4b4" opacity="0.85" filter="url(#b0)"/>
<rect x="241.5" y="538.2" width="4.5" height="1.6" rx="0.8" ry="0.8" fill="#b4b4b4" opacity="0.85" filter="url(#b0)"/>
<rect x="356.3" y="513" width="192" height="35.8" fill="url(#gel2)"/>
<rect x="357.0" y="514.1" width="21.5" height="3.4" rx="4.1" ry="1.7" fill="#fff" opacity="1" filter="url(#b3)"/>
<rect x="357.0" y="522.1" width="21.5" height="3.0" rx="3.6" ry="1.5" fill="#fff" opacity="0.3" filter="url(#b3)"/>
<rect x="357.0" y="529.1" width="21.5" height="4.8" rx="5.8" ry="2.4" fill="#fff" opacity="0.7" filter="url(#b3)"/>
<rect x="357.0" y="536.8" width="21.5" height="6.0" rx="7.2" ry="3.0" fill="#fff" opacity="0.45" filter="url(#b3)"/>
<rect x="463.8" y="530.2" width="24" height="17" rx="4" fill="url(#glow)" opacity="0.9" filter="url(#b2)"/>
<rect x="517.8" y="530.2" width="25" height="17" rx="4" fill="url(#glow)" opacity="0.9" filter="url(#b2)"/>
<rect x="464.8" y="530.3" width="22.4" height="2.6" rx="3.6" ry="1.3" fill="#959595" opacity="0.8" filter="url(#b3)"/>
<rect x="518.8" y="530.3" width="23.4" height="2.6" rx="3.6" ry="1.3" fill="#959595" opacity="0.75" filter="url(#b3)"/>
<rect x="584" y="514.4" width="66" height="36" fill="#2b2b2b"/>
<rect x="586.5" y="514.6" width="14.5" height="4.0" rx="4.0" ry="2.0" fill="#fff" opacity="0.5" filter="url(#b3)"/>
<rect x="586.5" y="523.5" width="14.5" height="5.0" rx="5.0" ry="2.5" fill="#fff" opacity="0.75" filter="url(#b3)"/>
<rect x="586.5" y="536.8" width="14.5" height="5.2" rx="5.2" ry="2.6" fill="#fff" opacity="0.45" filter="url(#b3)"/>
<rect x="607.5" y="523.9" width="15.5" height="7.8" rx="2.7" ry="3.9" fill="#fff" opacity="1" filter="url(#b1)"/>
<rect x="630.0" y="531.0" width="14.5" height="5.6" rx="2.0" ry="2.8" fill="#f4f4f4" opacity="0.95" filter="url(#b1)"/>
</g>
</svg>
</body></html>
